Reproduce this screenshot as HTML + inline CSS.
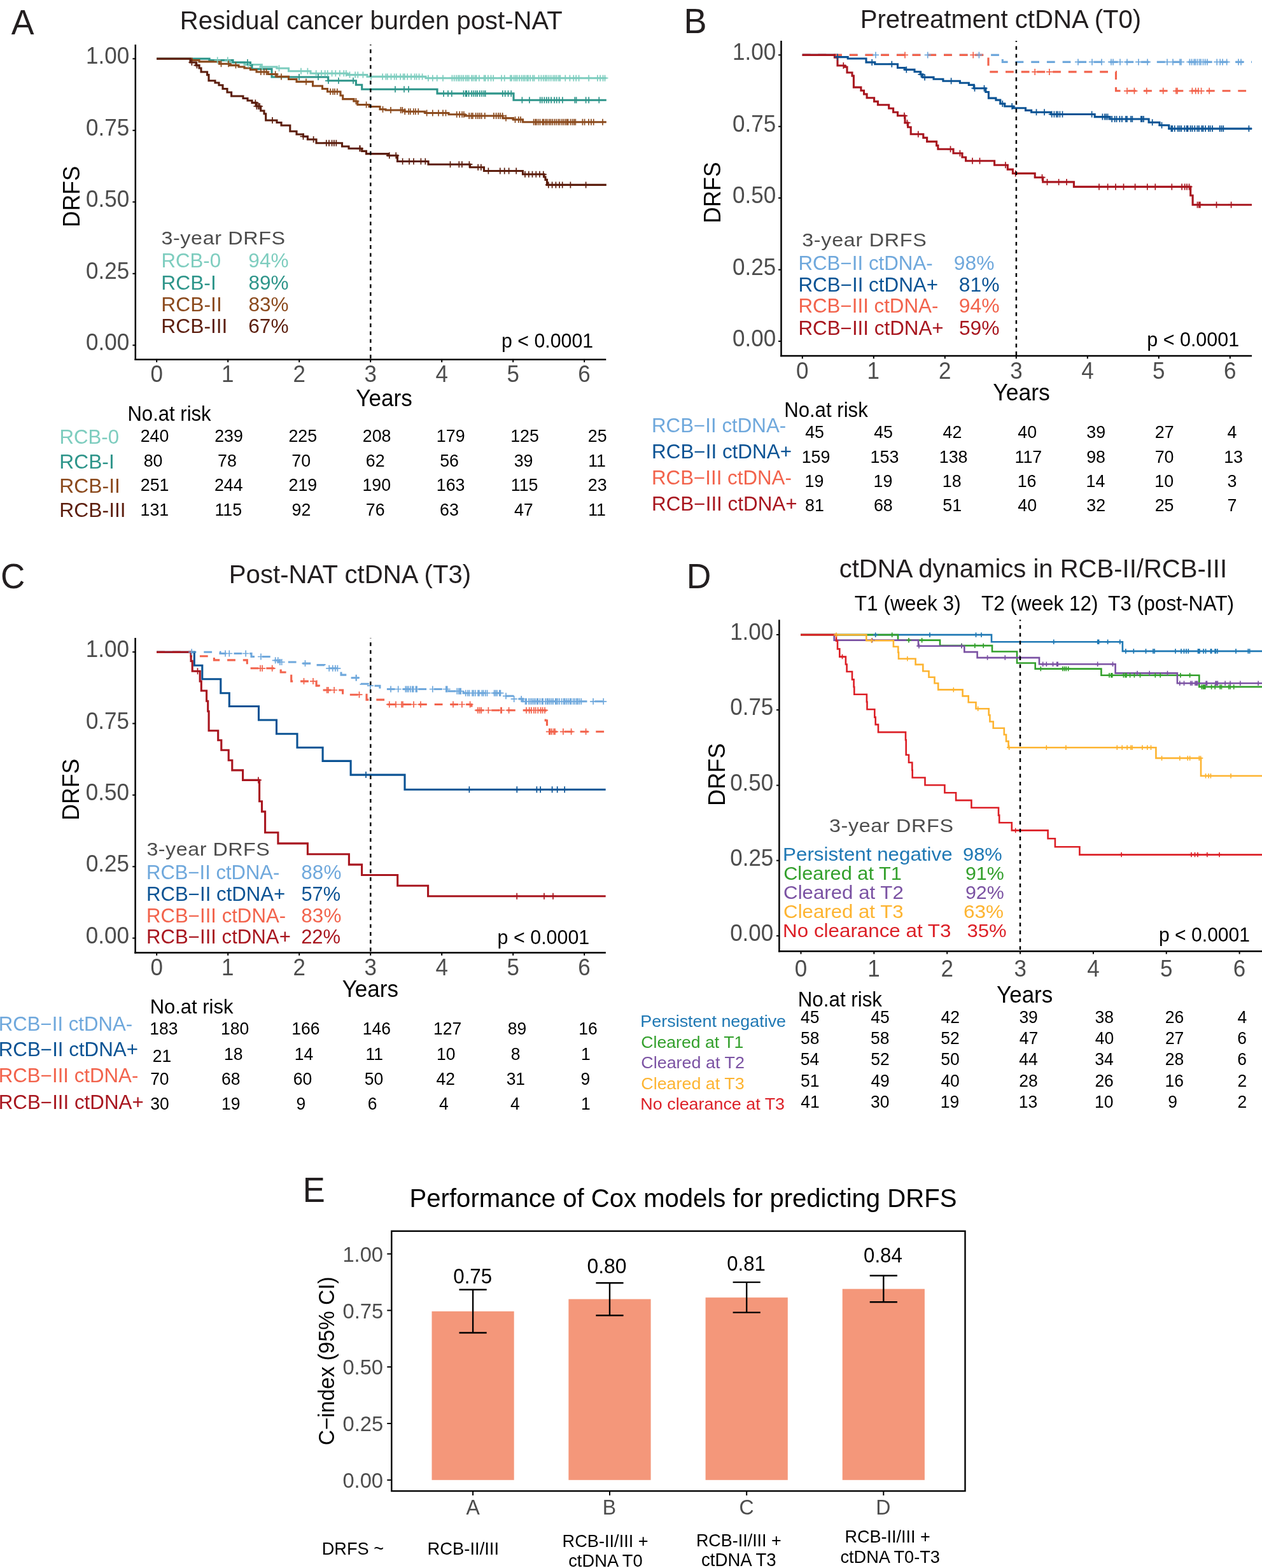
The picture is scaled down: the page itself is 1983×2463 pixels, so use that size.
<!DOCTYPE html>
<html><head><meta charset="utf-8"><title>Figure</title><style>html,body{margin:0;padding:0;background:#fff;}svg{display:block;}</style></head><body>
<svg width="1983" height="2463" viewBox="0 0 1983 2463" font-family="'Liberation Sans', Arial, Helvetica, sans-serif">
<rect width="1983" height="2463" fill="#fff"/>
<text x="17.87" y="53.80" font-size="55.50" fill="#231f20" textLength="35.84" lengthAdjust="spacingAndGlyphs">A</text>
<text x="282.79" y="46.00" font-size="41.40" fill="#231f20" textLength="600.98" lengthAdjust="spacingAndGlyphs">Residual cancer burden post-NAT</text>
<line x1="212.80" y1="70.00" x2="212.80" y2="565.95" stroke="#000" stroke-width="2.5"/>
<line x1="211.55" y1="564.70" x2="952.30" y2="564.70" stroke="#000" stroke-width="2.5"/>
<line x1="208.40" y1="542.30" x2="212.80" y2="542.30" stroke="#000" stroke-width="2"/>
<text x="135.04" y="550.30" font-size="36.47" fill="#4d4d4d" textLength="68.12" lengthAdjust="spacingAndGlyphs">0.00</text>
<line x1="208.40" y1="429.80" x2="212.80" y2="429.80" stroke="#000" stroke-width="2"/>
<text x="135.12" y="437.80" font-size="36.47" fill="#4d4d4d" textLength="68.12" lengthAdjust="spacingAndGlyphs">0.25</text>
<line x1="208.40" y1="317.30" x2="212.80" y2="317.30" stroke="#000" stroke-width="2"/>
<text x="135.04" y="325.30" font-size="36.47" fill="#4d4d4d" textLength="68.12" lengthAdjust="spacingAndGlyphs">0.50</text>
<line x1="208.40" y1="204.80" x2="212.80" y2="204.80" stroke="#000" stroke-width="2"/>
<text x="135.12" y="212.80" font-size="36.47" fill="#4d4d4d" textLength="68.12" lengthAdjust="spacingAndGlyphs">0.75</text>
<line x1="208.40" y1="92.30" x2="212.80" y2="92.30" stroke="#000" stroke-width="2"/>
<text x="135.04" y="100.30" font-size="36.47" fill="#4d4d4d" textLength="68.12" lengthAdjust="spacingAndGlyphs">1.00</text>
<line x1="246.20" y1="564.70" x2="246.20" y2="569.10" stroke="#000" stroke-width="2"/>
<text x="236.44" y="599.80" font-size="36.47" fill="#4d4d4d" textLength="19.47" lengthAdjust="spacingAndGlyphs">0</text>
<line x1="358.20" y1="564.70" x2="358.20" y2="569.10" stroke="#000" stroke-width="2"/>
<text x="348.01" y="599.80" font-size="36.47" fill="#4d4d4d" textLength="19.47" lengthAdjust="spacingAndGlyphs">1</text>
<line x1="470.20" y1="564.70" x2="470.20" y2="569.10" stroke="#000" stroke-width="2"/>
<text x="460.49" y="599.80" font-size="36.47" fill="#4d4d4d" textLength="19.47" lengthAdjust="spacingAndGlyphs">2</text>
<line x1="582.20" y1="564.70" x2="582.20" y2="569.10" stroke="#000" stroke-width="2"/>
<text x="572.58" y="599.80" font-size="36.47" fill="#4d4d4d" textLength="19.47" lengthAdjust="spacingAndGlyphs">3</text>
<line x1="694.20" y1="564.70" x2="694.20" y2="569.10" stroke="#000" stroke-width="2"/>
<text x="684.58" y="599.80" font-size="36.47" fill="#4d4d4d" textLength="19.47" lengthAdjust="spacingAndGlyphs">4</text>
<line x1="806.20" y1="564.70" x2="806.20" y2="569.10" stroke="#000" stroke-width="2"/>
<text x="796.49" y="599.80" font-size="36.47" fill="#4d4d4d" textLength="19.47" lengthAdjust="spacingAndGlyphs">5</text>
<line x1="918.20" y1="564.70" x2="918.20" y2="569.10" stroke="#000" stroke-width="2"/>
<text x="908.36" y="599.80" font-size="36.47" fill="#4d4d4d" textLength="19.47" lengthAdjust="spacingAndGlyphs">6</text>
<text transform="translate(125.10,356.92) rotate(-90)" font-size="36.86" fill="#000" textLength="96.30" lengthAdjust="spacingAndGlyphs">DRFS</text>
<text x="559.31" y="638.00" font-size="37.50" fill="#000" textLength="88.54" lengthAdjust="spacingAndGlyphs">Years</text>
<path d="M246.2 92.3H329.0V94.6H361.0V98.0H384.0V101.5H409.7V105.0H435.0V107.2H453.5V111.8H488.0V115.3H545.6V117.6H577.0V120.4H669.0V122.7H952.8" fill="none" stroke="#7ecdbf" stroke-width="3.1" stroke-linejoin="miter" stroke-linecap="butt"/>
<path d="M246.2 92.3H329.0V94.6H366.0V98.0H393.5V102.6H396.0V108.4H427.0V121.0H515.7V126.8H559.4V133.3H568.7V140.2H687.0V146.9H807.0V157.2H952.8" fill="none" stroke="#2e958a" stroke-width="3.1" stroke-linejoin="miter" stroke-linecap="butt"/>
<path d="M246.2 92.3H301.4V94.6H313.0V96.9H345.0V100.3H361.0V102.6H375.0V105.0H384.0V107.0H393.5V109.5H403.0V113.0H421.0V116.5H435.0V120.4H453.5V124.5H466.0V128.4H491.5V135.0H506.5V139.5H514.5V144.0H535.0V150.0H538.7V155.6H556.0V159.0H561.8V164.5H580.0V167.5H597.0V171.7H606.0V173.0H636.0V175.2H668.0V177.5H705.0V179.8H730.5V182.0H790.0V185.6H806.5V187.9H821.5V191.8H952.8" fill="none" stroke="#8b4a1d" stroke-width="3.1" stroke-linejoin="miter" stroke-linecap="butt"/>
<path d="M246.2 92.3H299.0V98.0H308.0V102.6H313.0V107.0H316.0V113.0H325.6V117.6H328.0V126.8H338.0V130.0H344.0V133.7H350.0V139.5H357.0V145.0H363.6V151.0H382.0V154.5H389.0V158.0H396.0V161.4H403.0V167.0H409.7V174.0H415.0V178.7H417.7V189.0H435.0V192.5H442.0V197.0H455.8V206.3H466.0V211.0H476.5V214.4H483.4V219.0H497.0V224.7H537.5V230.0H548.0V233.3H568.7V237.4H575.5V241.6H609.5V244.3H624.5V253.5H673.0V258.2H738.6V262.8H760.5V268.5H821.5V273.8H855.0V278.0H857.0V282.4H859.5V290.4H952.8" fill="none" stroke="#5c1e0e" stroke-width="3.1" stroke-linejoin="miter" stroke-linecap="butt"/>
<path d="M341.7 89.6V99.6M336.7 94.6H346.7M357.8 89.6V99.6M352.8 94.6H362.8M390.0 96.5V106.5M385.0 101.5H395.0M412.0 100.0V110.0M407.0 105.0H417.0M438.5 102.2V112.2M433.5 107.2H443.5M473.0 106.8V116.8M468.0 111.8H478.0M483.4 106.8V116.8M478.4 111.8H488.4M496.7 110.3V120.3M491.7 115.3H501.7M505.1 110.3V120.3M500.1 115.3H510.1M510.7 110.3V120.3M505.7 115.3H515.7M514.8 110.3V120.3M509.8 115.3H519.8M521.6 110.3V120.3M516.6 115.3H526.6M527.3 110.3V120.3M522.3 115.3H532.3M533.9 110.3V120.3M528.9 115.3H538.9M540.3 110.3V120.3M535.3 115.3H545.3M543.8 110.3V120.3M538.8 115.3H548.8M549.5 112.6V122.6M544.5 117.6H554.5M558.2 112.6V122.6M553.2 117.6H563.2M562.3 112.6V122.6M557.3 117.6H567.3M570.4 112.6V122.6M565.4 117.6H575.4M583.0 115.4V125.4M578.0 120.4H588.0M601.1 115.4V125.4M596.1 120.4H606.1M606.4 115.4V125.4M601.4 120.4H611.4M608.8 115.4V125.4M603.8 120.4H613.8M614.5 115.4V125.4M609.5 120.4H619.5M619.7 115.4V125.4M614.7 120.4H624.7M622.8 115.4V125.4M617.8 120.4H627.8M629.2 115.4V125.4M624.2 120.4H634.2M633.6 115.4V125.4M628.6 120.4H638.6M635.7 115.4V125.4M630.7 120.4H640.7M640.2 115.4V125.4M635.2 120.4H645.2M646.0 115.4V125.4M641.0 120.4H651.0M651.5 115.4V125.4M646.5 120.4H656.5M654.5 115.4V125.4M649.5 120.4H659.5M658.5 115.4V125.4M653.5 120.4H663.5M663.6 115.4V125.4M658.6 120.4H668.6M672.9 117.7V127.7M667.9 122.7H677.9M679.8 117.7V127.7M674.8 122.7H684.8M686.7 117.7V127.7M681.7 122.7H691.7M696.0 117.7V127.7M691.0 122.7H701.0M710.4 117.7V127.7M705.4 122.7H715.4M713.7 117.7V127.7M708.7 122.7H718.7M717.0 117.7V127.7M712.0 122.7H722.0M720.0 117.7V127.7M715.0 122.7H725.0M722.4 117.7V127.7M717.4 122.7H727.4M725.4 117.7V127.7M720.4 122.7H730.4M728.2 117.7V127.7M723.2 122.7H733.2M731.6 117.7V127.7M726.6 122.7H736.6M734.2 117.7V127.7M729.2 122.7H739.2M736.6 117.7V127.7M731.6 122.7H741.6M741.0 117.7V127.7M736.0 122.7H746.0M743.4 117.7V127.7M738.4 122.7H748.4M746.5 117.7V127.7M741.5 122.7H751.5M748.6 117.7V127.7M743.6 122.7H753.6M752.9 117.7V127.7M747.9 122.7H757.9M760.7 117.7V127.7M755.7 122.7H765.7M762.7 117.7V127.7M757.7 122.7H767.7M766.9 117.7V127.7M761.9 122.7H771.9M771.5 117.7V127.7M766.5 122.7H776.5M775.2 117.7V127.7M770.2 122.7H780.2M788.0 117.7V127.7M783.0 122.7H793.0M792.7 117.7V127.7M787.7 122.7H797.7M801.9 117.7V127.7M796.9 122.7H806.9M803.9 117.7V127.7M798.9 122.7H808.9M807.6 117.7V127.7M802.6 122.7H812.6M810.3 117.7V127.7M805.3 122.7H815.3M812.6 117.7V127.7M807.6 122.7H817.6M816.1 117.7V127.7M811.1 122.7H821.1M819.5 117.7V127.7M814.5 122.7H824.5M822.4 117.7V127.7M817.4 122.7H827.4M824.8 117.7V127.7M819.8 122.7H829.8M827.9 117.7V127.7M822.9 122.7H832.9M829.9 117.7V127.7M824.9 122.7H834.9M833.2 117.7V127.7M828.2 122.7H838.2M837.2 117.7V127.7M832.2 122.7H842.2M839.5 117.7V127.7M834.5 122.7H844.5M846.6 117.7V127.7M841.6 122.7H851.6M850.4 117.7V127.7M845.4 122.7H855.4M853.8 117.7V127.7M848.8 122.7H858.8M856.8 117.7V127.7M851.8 122.7H861.8M859.3 117.7V127.7M854.3 122.7H864.3M862.5 117.7V127.7M857.5 122.7H867.5M865.7 117.7V127.7M860.7 122.7H870.7M869.3 117.7V127.7M864.3 122.7H874.3M871.9 117.7V127.7M866.9 122.7H876.9M874.7 117.7V127.7M869.7 122.7H879.7M878.0 117.7V127.7M873.0 122.7H883.0M880.2 117.7V127.7M875.2 122.7H885.2M888.3 117.7V127.7M883.3 122.7H893.3M895.4 117.7V127.7M890.4 122.7H900.4M901.3 117.7V127.7M896.3 122.7H906.3M905.2 117.7V127.7M900.2 122.7H910.2M909.6 117.7V127.7M904.6 122.7H914.6M925.2 117.7V127.7M920.2 122.7H930.2M938.9 117.7V127.7M933.9 122.7H943.9M943.1 117.7V127.7M938.1 122.7H948.1M947.5 117.7V127.7M942.5 122.7H952.5M950.5 117.7V127.7M945.5 122.7H955.5" stroke="#7ecdbf" stroke-width="1.7" fill="none"/>
<path d="M389.0 93.0V103.0M384.0 98.0H394.0M470.0 116.0V126.0M465.0 121.0H475.0M500.0 116.0V126.0M495.0 121.0H505.0M516.0 121.8V131.8M511.0 126.8H521.0M532.0 121.8V131.8M527.0 126.8H537.0M555.0 121.8V131.8M550.0 126.8H560.0M621.0 135.2V145.2M616.0 140.2H626.0M635.0 135.2V145.2M630.0 140.2H640.0M642.0 135.2V145.2M637.0 140.2H647.0M697.1 141.9V151.9M692.1 146.9H702.1M704.0 141.9V151.9M699.0 146.9H709.0M709.8 141.9V151.9M704.8 146.9H714.8M728.4 141.9V151.9M723.4 146.9H733.4M731.7 141.9V151.9M726.7 146.9H736.7M733.2 141.9V151.9M728.2 146.9H738.2M736.5 141.9V151.9M731.5 146.9H741.5M741.2 141.9V151.9M736.2 146.9H746.2M744.3 141.9V151.9M739.3 146.9H749.3M747.4 141.9V151.9M742.4 146.9H752.4M750.0 141.9V151.9M745.0 146.9H755.0M753.8 141.9V151.9M748.8 146.9H758.8M757.1 141.9V151.9M752.1 146.9H762.1M760.3 141.9V151.9M755.3 146.9H765.3M762.7 141.9V151.9M757.7 146.9H767.7M789.8 141.9V151.9M784.8 146.9H794.8M793.7 141.9V151.9M788.7 146.9H798.7M798.5 141.9V151.9M793.5 146.9H803.5M803.2 141.9V151.9M798.2 146.9H808.2M820.4 152.2V162.2M815.4 157.2H825.4M831.9 152.2V162.2M826.9 157.2H836.9M848.7 152.2V162.2M843.7 157.2H853.7M851.7 152.2V162.2M846.7 157.2H856.7M855.4 152.2V162.2M850.4 157.2H860.4M858.9 152.2V162.2M853.9 157.2H863.9M862.2 152.2V162.2M857.2 157.2H867.2M866.1 152.2V162.2M861.1 157.2H871.1M871.1 152.2V162.2M866.1 157.2H876.1M874.7 152.2V162.2M869.7 157.2H879.7M878.7 152.2V162.2M873.7 157.2H883.7M883.9 152.2V162.2M878.9 157.2H888.9M903.3 152.2V162.2M898.3 157.2H908.3M905.6 152.2V162.2M900.6 157.2H910.6M920.6 152.2V162.2M915.6 157.2H925.6M925.2 152.2V162.2M920.2 157.2H930.2M941.3 152.2V162.2M936.3 157.2H946.3" stroke="#2e958a" stroke-width="1.7" fill="none"/>
<path d="M347.5 95.3V105.3M342.5 100.3H352.5M359.0 95.3V105.3M354.0 100.3H364.0M370.5 97.6V107.6M365.5 102.6H375.5M409.9 108.0V118.0M404.9 113.0H414.9M414.9 108.0V118.0M409.9 113.0H419.9M418.6 108.0V118.0M413.6 113.0H423.6M432.7 111.5V121.5M427.7 116.5H437.7M442.0 115.4V125.4M437.0 120.4H447.0M481.0 123.4V133.4M476.0 128.4H486.0M519.1 139.0V149.0M514.1 144.0H524.1M523.2 139.0V149.0M518.2 144.0H528.2M525.9 139.0V149.0M520.9 144.0H530.9M529.8 139.0V149.0M524.8 144.0H534.8M559.4 154.0V164.0M554.4 159.0H564.4M575.6 159.5V169.5M570.6 164.5H580.6M601.5 166.7V176.7M596.5 171.7H606.5M614.0 168.0V178.0M609.0 173.0H619.0M629.6 168.0V178.0M624.6 173.0H634.6M632.3 168.0V178.0M627.3 173.0H637.3M636.2 170.2V180.2M631.2 175.2H641.2M642.1 170.2V180.2M637.1 175.2H647.1M644.8 170.2V180.2M639.8 175.2H649.8M649.8 170.2V180.2M644.8 175.2H654.8M652.9 170.2V180.2M647.9 175.2H657.9M657.3 170.2V180.2M652.3 175.2H662.3M670.6 172.5V182.5M665.6 177.5H675.6M679.8 172.5V182.5M674.8 177.5H684.8M689.0 172.5V182.5M684.0 177.5H694.0M696.0 172.5V182.5M691.0 177.5H701.0M700.5 172.5V182.5M695.5 177.5H705.5M717.7 174.8V184.8M712.7 179.8H722.7M722.2 174.8V184.8M717.2 179.8H727.2M726.1 174.8V184.8M721.1 179.8H731.1M728.8 174.8V184.8M723.8 179.8H733.8M737.2 177.0V187.0M732.2 182.0H742.2M740.6 177.0V187.0M735.6 182.0H745.6M742.8 177.0V187.0M737.8 182.0H747.8M747.7 177.0V187.0M742.7 182.0H752.7M750.8 177.0V187.0M745.8 182.0H755.8M753.7 177.0V187.0M748.7 182.0H758.7M756.6 177.0V187.0M751.6 182.0H761.6M761.8 177.0V187.0M756.8 182.0H766.8M775.9 177.0V187.0M770.9 182.0H780.9M779.6 177.0V187.0M774.6 182.0H784.6M783.1 177.0V187.0M778.1 182.0H788.1M786.0 177.0V187.0M781.0 182.0H791.0M789.6 177.0V187.0M784.6 182.0H794.6M795.0 180.6V190.6M790.0 185.6H800.0M809.5 182.9V192.9M804.5 187.9H814.5M814.8 182.9V192.9M809.8 187.9H819.8M818.1 182.9V192.9M813.1 187.9H823.1M838.6 186.8V196.8M833.6 191.8H843.6M841.3 186.8V196.8M836.3 191.8H846.3M842.7 186.8V196.8M837.7 191.8H847.7M845.6 186.8V196.8M840.6 191.8H850.6M848.5 186.8V196.8M843.5 191.8H853.5M852.5 186.8V196.8M847.5 191.8H857.5M854.4 186.8V196.8M849.4 191.8H859.4M857.4 186.8V196.8M852.4 191.8H862.4M859.7 186.8V196.8M854.7 191.8H864.7M862.8 186.8V196.8M857.8 191.8H867.8M865.3 186.8V196.8M860.3 191.8H870.3M868.0 186.8V196.8M863.0 191.8H873.0M871.2 186.8V196.8M866.2 191.8H876.2M874.0 186.8V196.8M869.0 191.8H879.0M877.2 186.8V196.8M872.2 191.8H882.2M879.6 186.8V196.8M874.6 191.8H884.6M882.8 186.8V196.8M877.8 191.8H887.8M885.5 186.8V196.8M880.5 191.8H890.5M888.4 186.8V196.8M883.4 191.8H893.4M890.7 186.8V196.8M885.7 191.8H895.7M892.6 186.8V196.8M887.6 191.8H897.6M896.5 186.8V196.8M891.5 191.8H901.5M899.5 186.8V196.8M894.5 191.8H904.5M902.1 186.8V196.8M897.1 191.8H907.1M904.3 186.8V196.8M899.3 191.8H909.3M915.4 186.8V196.8M910.4 191.8H920.4M918.6 186.8V196.8M913.6 191.8H923.6M925.0 186.8V196.8M920.0 191.8H930.0M928.9 186.8V196.8M923.9 191.8H933.9M932.7 186.8V196.8M927.7 191.8H937.7M947.0 186.8V196.8M942.0 191.8H952.0" stroke="#8b4a1d" stroke-width="1.7" fill="none"/>
<path d="M301.4 93.0V103.0M296.4 98.0H306.4M309.4 97.6V107.6M304.4 102.6H314.4M401.3 156.4V166.4M396.3 161.4H406.3M403.4 162.0V172.0M398.4 167.0H408.4M406.1 162.0V172.0M401.1 167.0H411.1M408.1 162.0V172.0M403.1 167.0H413.1M428.0 184.0V194.0M423.0 189.0H433.0M476.5 209.4V219.4M471.5 214.4H481.5M492.6 214.0V224.0M487.6 219.0H497.6M512.8 219.7V229.7M507.8 224.7H517.8M517.0 219.7V229.7M512.0 224.7H522.0M521.6 219.7V229.7M516.6 224.7H526.6M524.9 219.7V229.7M519.9 224.7H529.9M528.3 219.7V229.7M523.3 224.7H533.3M565.2 228.3V238.3M560.2 233.3H570.2M565.8 228.3V238.3M560.8 233.3H570.8M611.8 239.3V249.3M606.8 244.3H616.8M622.2 239.3V249.3M617.2 244.3H627.2M632.6 248.5V258.5M627.6 253.5H637.6M643.0 248.5V258.5M638.0 253.5H648.0M650.0 248.5V258.5M645.0 253.5H655.0M661.4 248.5V258.5M656.4 253.5H666.4M668.3 248.5V258.5M663.3 253.5H673.3M707.5 253.2V263.2M702.5 258.2H712.5M721.3 253.2V263.2M716.3 258.2H726.3M725.9 253.2V263.2M720.9 258.2H730.9M737.4 253.2V263.2M732.4 258.2H742.4M751.2 257.8V267.8M746.2 262.8H756.2M755.9 257.8V267.8M750.9 262.8H760.9M767.4 263.5V273.5M762.4 268.5H772.4M785.8 263.5V273.5M780.8 268.5H790.8M792.7 263.5V273.5M787.7 268.5H797.7M799.6 263.5V273.5M794.6 268.5H804.6M811.2 263.5V273.5M806.2 268.5H816.2M825.0 268.8V278.8M820.0 273.8H830.0M830.8 268.8V278.8M825.8 273.8H835.8M836.5 268.8V278.8M831.5 273.8H841.5M842.3 268.8V278.8M837.3 273.8H847.3M848.0 268.8V278.8M843.0 273.8H853.0M853.8 268.8V278.8M848.8 273.8H858.8M861.8 285.4V295.4M856.8 290.4H866.8M867.6 285.4V295.4M862.6 290.4H872.6M873.4 285.4V295.4M868.4 290.4H878.4M879.1 285.4V295.4M874.1 290.4H884.1M883.7 285.4V295.4M878.7 290.4H888.7M896.4 285.4V295.4M891.4 290.4H901.4M920.6 285.4V295.4M915.6 290.4H925.6" stroke="#5c1e0e" stroke-width="1.7" fill="none"/>
<line x1="582.30" y1="70.00" x2="582.30" y2="564.70" stroke="#000" stroke-width="2.5" stroke-dasharray="5.9 6.4" stroke-dashoffset="4.7"/>
<text transform="translate(253.39,384.00) scale(1.065,1)" font-size="30.30" fill="#4d4d4d" textLength="182.77" lengthAdjust="spacing">3-year DRFS</text>
<text x="253.43" y="420.10" font-size="30.50" fill="#7ecdbf" textLength="93.56" lengthAdjust="spacingAndGlyphs">RCB-0</text>
<text x="390.30" y="420.10" font-size="30.50" fill="#7ecdbf" textLength="63.28" lengthAdjust="spacingAndGlyphs">94%</text>
<text x="253.38" y="454.80" font-size="30.50" fill="#2e958a" textLength="86.34" lengthAdjust="spacingAndGlyphs">RCB-I</text>
<text x="390.46" y="454.80" font-size="30.50" fill="#2e958a" textLength="63.11" lengthAdjust="spacingAndGlyphs">89%</text>
<text x="253.38" y="488.60" font-size="30.50" fill="#8b4a1d" textLength="95.37" lengthAdjust="spacingAndGlyphs">RCB-II</text>
<text x="390.46" y="488.60" font-size="30.50" fill="#8b4a1d" textLength="63.11" lengthAdjust="spacingAndGlyphs">83%</text>
<text x="253.38" y="523.30" font-size="30.50" fill="#5c1e0e" textLength="104.07" lengthAdjust="spacingAndGlyphs">RCB-III</text>
<text x="390.22" y="523.30" font-size="30.50" fill="#5c1e0e" textLength="63.36" lengthAdjust="spacingAndGlyphs">67%</text>
<text x="788.03" y="546.20" font-size="31.57" fill="#000" textLength="144.07" lengthAdjust="spacingAndGlyphs">p &lt; 0.0001</text>
<text x="200.44" y="661.00" font-size="32.37" fill="#000" textLength="131.19" lengthAdjust="spacingAndGlyphs">No.at risk</text>
<text x="93.42" y="697.30" font-size="30.50" fill="#7ecdbf" textLength="93.66" lengthAdjust="spacingAndGlyphs">RCB-0</text>
<text x="93.38" y="735.80" font-size="30.50" fill="#2e958a" textLength="86.34" lengthAdjust="spacingAndGlyphs">RCB-I</text>
<text x="93.37" y="774.40" font-size="30.50" fill="#8b4a1d" textLength="95.47" lengthAdjust="spacingAndGlyphs">RCB-II</text>
<text x="93.38" y="812.40" font-size="30.50" fill="#5c1e0e" textLength="104.28" lengthAdjust="spacingAndGlyphs">RCB-III</text>
<text x="220.69" y="694.30" font-size="27.93" fill="#000" textLength="44.72" lengthAdjust="spacingAndGlyphs">240</text>
<text x="337.14" y="694.30" font-size="27.93" fill="#000" textLength="44.72" lengthAdjust="spacingAndGlyphs">239</text>
<text x="453.42" y="694.30" font-size="27.93" fill="#000" textLength="44.72" lengthAdjust="spacingAndGlyphs">225</text>
<text x="569.81" y="694.30" font-size="27.93" fill="#000" textLength="44.72" lengthAdjust="spacingAndGlyphs">208</text>
<text x="685.86" y="694.30" font-size="27.93" fill="#000" textLength="44.72" lengthAdjust="spacingAndGlyphs">179</text>
<text x="802.14" y="694.30" font-size="27.93" fill="#000" textLength="44.72" lengthAdjust="spacingAndGlyphs">125</text>
<text x="923.76" y="694.30" font-size="27.93" fill="#000" textLength="29.81" lengthAdjust="spacingAndGlyphs">25</text>
<text x="225.73" y="732.90" font-size="27.93" fill="#000" textLength="29.81" lengthAdjust="spacingAndGlyphs">80</text>
<text x="342.04" y="732.90" font-size="27.93" fill="#000" textLength="29.81" lengthAdjust="spacingAndGlyphs">78</text>
<text x="458.33" y="732.90" font-size="27.93" fill="#000" textLength="29.81" lengthAdjust="spacingAndGlyphs">70</text>
<text x="574.84" y="732.90" font-size="27.93" fill="#000" textLength="29.81" lengthAdjust="spacingAndGlyphs">62</text>
<text x="691.23" y="732.90" font-size="27.93" fill="#000" textLength="29.81" lengthAdjust="spacingAndGlyphs">56</text>
<text x="807.64" y="732.90" font-size="27.93" fill="#000" textLength="29.81" lengthAdjust="spacingAndGlyphs">39</text>
<text x="924.16" y="732.90" font-size="27.93" fill="#000" textLength="27.82" lengthAdjust="spacingAndGlyphs">11</text>
<text x="220.82" y="771.20" font-size="27.93" fill="#000" textLength="44.72" lengthAdjust="spacingAndGlyphs">251</text>
<text x="336.91" y="771.20" font-size="27.93" fill="#000" textLength="44.72" lengthAdjust="spacingAndGlyphs">244</text>
<text x="453.49" y="771.20" font-size="27.93" fill="#000" textLength="44.72" lengthAdjust="spacingAndGlyphs">219</text>
<text x="569.40" y="771.20" font-size="27.93" fill="#000" textLength="44.72" lengthAdjust="spacingAndGlyphs">190</text>
<text x="685.82" y="771.20" font-size="27.93" fill="#000" textLength="44.72" lengthAdjust="spacingAndGlyphs">163</text>
<text x="802.81" y="771.20" font-size="27.93" fill="#000" textLength="42.73" lengthAdjust="spacingAndGlyphs">115</text>
<text x="923.79" y="771.20" font-size="27.93" fill="#000" textLength="29.81" lengthAdjust="spacingAndGlyphs">23</text>
<text x="220.49" y="809.80" font-size="27.93" fill="#000" textLength="44.72" lengthAdjust="spacingAndGlyphs">131</text>
<text x="337.41" y="809.80" font-size="27.93" fill="#000" textLength="42.73" lengthAdjust="spacingAndGlyphs">115</text>
<text x="458.53" y="809.80" font-size="27.93" fill="#000" textLength="29.81" lengthAdjust="spacingAndGlyphs">92</text>
<text x="574.74" y="809.80" font-size="27.93" fill="#000" textLength="29.81" lengthAdjust="spacingAndGlyphs">76</text>
<text x="691.09" y="809.80" font-size="27.93" fill="#000" textLength="29.81" lengthAdjust="spacingAndGlyphs">63</text>
<text x="807.91" y="809.80" font-size="27.93" fill="#000" textLength="29.81" lengthAdjust="spacingAndGlyphs">47</text>
<text x="924.16" y="809.80" font-size="27.93" fill="#000" textLength="27.82" lengthAdjust="spacingAndGlyphs">11</text>
<text x="1074.54" y="51.90" font-size="55.50" fill="#231f20" textLength="36.07" lengthAdjust="spacingAndGlyphs">B</text>
<text x="1351.69" y="43.70" font-size="41.40" fill="#231f20" textLength="441.55" lengthAdjust="spacingAndGlyphs">Pretreatment ctDNA (T0)</text>
<line x1="1227.50" y1="64.00" x2="1227.50" y2="560.25" stroke="#000" stroke-width="2.5"/>
<line x1="1226.25" y1="559.00" x2="1967.00" y2="559.00" stroke="#000" stroke-width="2.5"/>
<line x1="1223.10" y1="536.00" x2="1227.50" y2="536.00" stroke="#000" stroke-width="2"/>
<text x="1151.04" y="544.00" font-size="36.47" fill="#4d4d4d" textLength="68.12" lengthAdjust="spacingAndGlyphs">0.00</text>
<line x1="1223.10" y1="423.70" x2="1227.50" y2="423.70" stroke="#000" stroke-width="2"/>
<text x="1151.12" y="431.70" font-size="36.47" fill="#4d4d4d" textLength="68.12" lengthAdjust="spacingAndGlyphs">0.25</text>
<line x1="1223.10" y1="311.00" x2="1227.50" y2="311.00" stroke="#000" stroke-width="2"/>
<text x="1151.04" y="319.00" font-size="36.47" fill="#4d4d4d" textLength="68.12" lengthAdjust="spacingAndGlyphs">0.50</text>
<line x1="1223.10" y1="198.70" x2="1227.50" y2="198.70" stroke="#000" stroke-width="2"/>
<text x="1151.12" y="206.70" font-size="36.47" fill="#4d4d4d" textLength="68.12" lengthAdjust="spacingAndGlyphs">0.75</text>
<line x1="1223.10" y1="86.40" x2="1227.50" y2="86.40" stroke="#000" stroke-width="2"/>
<text x="1151.04" y="94.40" font-size="36.47" fill="#4d4d4d" textLength="68.12" lengthAdjust="spacingAndGlyphs">1.00</text>
<line x1="1260.80" y1="559.00" x2="1260.80" y2="563.40" stroke="#000" stroke-width="2"/>
<text x="1251.04" y="594.80" font-size="36.47" fill="#4d4d4d" textLength="19.47" lengthAdjust="spacingAndGlyphs">0</text>
<line x1="1372.80" y1="559.00" x2="1372.80" y2="563.40" stroke="#000" stroke-width="2"/>
<text x="1362.61" y="594.80" font-size="36.47" fill="#4d4d4d" textLength="19.47" lengthAdjust="spacingAndGlyphs">1</text>
<line x1="1484.80" y1="559.00" x2="1484.80" y2="563.40" stroke="#000" stroke-width="2"/>
<text x="1475.09" y="594.80" font-size="36.47" fill="#4d4d4d" textLength="19.47" lengthAdjust="spacingAndGlyphs">2</text>
<line x1="1596.80" y1="559.00" x2="1596.80" y2="563.40" stroke="#000" stroke-width="2"/>
<text x="1587.17" y="594.80" font-size="36.47" fill="#4d4d4d" textLength="19.47" lengthAdjust="spacingAndGlyphs">3</text>
<line x1="1708.80" y1="559.00" x2="1708.80" y2="563.40" stroke="#000" stroke-width="2"/>
<text x="1699.17" y="594.80" font-size="36.47" fill="#4d4d4d" textLength="19.47" lengthAdjust="spacingAndGlyphs">4</text>
<line x1="1820.80" y1="559.00" x2="1820.80" y2="563.40" stroke="#000" stroke-width="2"/>
<text x="1811.09" y="594.80" font-size="36.47" fill="#4d4d4d" textLength="19.47" lengthAdjust="spacingAndGlyphs">5</text>
<line x1="1932.80" y1="559.00" x2="1932.80" y2="563.40" stroke="#000" stroke-width="2"/>
<text x="1922.96" y="594.80" font-size="36.47" fill="#4d4d4d" textLength="19.47" lengthAdjust="spacingAndGlyphs">6</text>
<text transform="translate(1131.80,350.82) rotate(-90)" font-size="36.86" fill="#000" textLength="96.30" lengthAdjust="spacingAndGlyphs">DRFS</text>
<text x="1560.30" y="629.10" font-size="37.50" fill="#000" textLength="89.56" lengthAdjust="spacingAndGlyphs">Years</text>
<path d="M1260.7 86.4H1575.3V97.4H1967.0" fill="none" stroke="#6fa8dc" stroke-width="3.1" stroke-linejoin="miter" stroke-linecap="butt" stroke-dasharray="12.8 11.9" stroke-dashoffset="0"/>
<path d="M1260.7 86.4H1313.7V89.6H1332.2V92.0H1361.0V97.9H1374.8V100.7H1410.5V106.5H1422.0V109.4H1437.0V112.7H1446.2V116.8H1449.7V121.4H1467.0V124.2H1481.9V127.2H1508.4V130.2H1522.3V133.4H1530.3V138.7H1548.8V144.5H1553.4V154.1H1564.9V157.1H1571.8V162.9H1578.7V167.0H1592.5V169.8H1611.5V173.4H1620.6V176.3H1651.1V179.5H1720.2V183.6H1744.0V187.0H1805.1V192.2H1822.0V196.7H1836.8V202.1H1967.0" fill="none" stroke="#0b5394" stroke-width="3.1" stroke-linejoin="miter" stroke-linecap="butt"/>
<path d="M1260.7 86.4H1553.0V112.9H1753.5V142.8H1960.0" fill="none" stroke="#f2634c" stroke-width="3.1" stroke-linejoin="miter" stroke-linecap="butt" stroke-dasharray="12.8 11.9" stroke-dashoffset="0"/>
<path d="M1260.7 86.4H1311.4V90.3H1316.0V103.0H1327.6V105.3H1331.0V114.0H1339.0V119.1H1341.4V137.1H1352.9V142.2H1357.5V147.9H1362.1V153.7H1373.6V159.4H1379.4V164.7H1396.7V170.3H1403.6V176.3H1410.5V181.8H1422.0V192.9H1426.6V199.8H1431.2V210.8H1450.8V216.4H1456.6V222.4H1471.6V228.6H1473.9V234.3H1498.0V240.8H1511.9V247.0H1517.6V252.8H1562.6V259.2H1583.3V266.1H1591.4V272.4H1626.2V278.7H1638.7V285.9H1687.4V293.4H1870.7V307.0H1874.1V321.7H1967.0" fill="none" stroke="#a8161f" stroke-width="3.1" stroke-linejoin="miter" stroke-linecap="butt"/>
<path d="M1376.0 81.4V91.4M1371.0 86.4H1381.0M1457.7 81.4V91.4M1452.7 86.4H1462.7M1538.4 81.4V91.4M1533.4 86.4H1543.4M1694.0 92.4V102.4M1689.0 97.4H1699.0M1716.0 92.4V102.4M1711.0 97.4H1721.0M1731.0 92.4V102.4M1726.0 97.4H1736.0M1746.0 92.4V102.4M1741.0 97.4H1751.0M1749.0 92.4V102.4M1744.0 97.4H1754.0M1760.0 92.4V102.4M1755.0 97.4H1765.0M1771.0 92.4V102.4M1766.0 97.4H1776.0M1789.0 92.4V102.4M1784.0 97.4H1794.0M1803.0 92.4V102.4M1798.0 97.4H1808.0M1834.0 92.4V102.4M1829.0 97.4H1839.0M1843.0 92.4V102.4M1838.0 97.4H1848.0M1854.0 92.4V102.4M1849.0 97.4H1859.0M1856.0 92.4V102.4M1851.0 97.4H1861.0M1869.4 92.4V102.4M1864.4 97.4H1874.4M1872.6 92.4V102.4M1867.6 97.4H1877.6M1876.3 92.4V102.4M1871.3 97.4H1881.3M1878.4 92.4V102.4M1873.4 97.4H1883.4M1881.5 92.4V102.4M1876.5 97.4H1886.5M1884.7 92.4V102.4M1879.7 97.4H1889.7M1886.9 92.4V102.4M1881.9 97.4H1891.9M1890.5 92.4V102.4M1885.5 97.4H1895.5M1893.7 92.4V102.4M1888.7 97.4H1898.7M1897.0 92.4V102.4M1892.0 97.4H1902.0M1912.2 92.4V102.4M1907.2 97.4H1917.2M1917.2 92.4V102.4M1912.2 97.4H1922.2M1921.1 92.4V102.4M1916.1 97.4H1926.1M1927.6 92.4V102.4M1922.6 97.4H1932.6M1946.0 92.4V102.4M1941.0 97.4H1951.0M1950.0 92.4V102.4M1945.0 97.4H1955.0" stroke="#6fa8dc" stroke-width="1.7" fill="none"/>
<path d="M1316.0 84.6V94.6M1311.0 89.6H1321.0M1370.2 92.9V102.9M1365.2 97.9H1375.2M1401.3 95.7V105.7M1396.3 100.7H1406.3M1424.3 104.4V114.4M1419.3 109.4H1429.3M1447.4 111.8V121.8M1442.4 116.8H1452.4M1453.1 116.4V126.4M1448.1 121.4H1458.1M1494.6 122.2V132.2M1489.6 127.2H1499.6M1531.5 133.7V143.7M1526.5 138.7H1536.5M1546.5 133.7V143.7M1541.5 138.7H1551.5M1575.3 157.9V167.9M1570.3 162.9H1580.3M1590.2 162.0V172.0M1585.2 167.0H1595.2M1628.5 171.3V181.3M1623.5 176.3H1633.5M1641.0 171.3V181.3M1636.0 176.3H1646.0M1652.7 174.5V184.5M1647.7 179.5H1657.7M1656.4 174.5V184.5M1651.4 179.5H1661.4M1659.9 174.5V184.5M1654.9 179.5H1664.9M1662.2 174.5V184.5M1657.2 179.5H1667.2M1665.4 174.5V184.5M1660.4 179.5H1670.4M1669.5 174.5V184.5M1664.5 179.5H1674.5M1715.6 174.5V184.5M1710.6 179.5H1720.6M1732.4 178.6V188.6M1727.4 183.6H1737.4M1735.8 178.6V188.6M1730.8 183.6H1740.8M1738.2 178.6V188.6M1733.2 183.6H1743.2M1740.6 178.6V188.6M1735.6 183.6H1745.6M1747.2 182.0V192.0M1742.2 187.0H1752.2M1751.6 182.0V192.0M1746.6 187.0H1756.6M1754.5 182.0V192.0M1749.5 187.0H1759.5M1759.4 182.0V192.0M1754.4 187.0H1764.4M1762.9 182.0V192.0M1757.9 187.0H1767.9M1768.9 182.0V192.0M1763.9 187.0H1773.9M1770.9 182.0V192.0M1765.9 187.0H1775.9M1777.0 182.0V192.0M1772.0 187.0H1782.0M1779.3 182.0V192.0M1774.3 187.0H1784.3M1792.9 182.0V192.0M1787.9 187.0H1797.9M1794.7 182.0V192.0M1789.7 187.0H1799.7M1797.0 182.0V192.0M1792.0 187.0H1802.0M1810.7 187.2V197.2M1805.7 192.2H1815.7M1825.5 191.7V201.7M1820.5 196.7H1830.5M1840.4 197.1V207.1M1835.4 202.1H1845.4M1842.2 197.1V207.1M1837.2 202.1H1847.2M1845.7 197.1V207.1M1840.7 202.1H1850.7M1850.9 197.1V207.1M1845.9 202.1H1855.9M1853.5 197.1V207.1M1848.5 202.1H1858.5M1856.1 197.1V207.1M1851.1 202.1H1861.1M1861.4 197.1V207.1M1856.4 202.1H1866.4M1864.8 197.1V207.1M1859.8 202.1H1869.8M1866.5 197.1V207.1M1861.5 202.1H1871.5M1870.6 197.1V207.1M1865.6 202.1H1875.6M1873.5 197.1V207.1M1868.5 202.1H1878.5M1877.3 197.1V207.1M1872.3 202.1H1882.3M1881.4 197.1V207.1M1876.4 202.1H1886.4M1883.9 197.1V207.1M1878.9 202.1H1888.9M1888.4 197.1V207.1M1883.4 202.1H1893.4M1890.5 197.1V207.1M1885.5 202.1H1895.5M1894.2 197.1V207.1M1889.2 202.1H1899.2M1899.0 197.1V207.1M1894.0 202.1H1904.0M1901.6 197.1V207.1M1896.6 202.1H1906.6M1905.1 197.1V207.1M1900.1 202.1H1910.1M1916.7 197.1V207.1M1911.7 202.1H1921.7M1919.5 197.1V207.1M1914.5 202.1H1924.5M1922.3 197.1V207.1M1917.3 202.1H1927.3M1962.4 197.1V207.1M1957.4 202.1H1967.4" stroke="#0b5394" stroke-width="1.7" fill="none"/>
<path d="M1422.0 81.4V91.4M1417.0 86.4H1427.0M1529.2 81.4V91.4M1524.2 86.4H1534.2M1626.2 107.9V117.9M1621.2 112.9H1631.2M1648.9 107.9V117.9M1643.9 112.9H1653.9M1771.0 137.8V147.8M1766.0 142.8H1776.0M1782.4 137.8V147.8M1777.4 142.8H1787.4M1801.7 137.8V147.8M1796.7 142.8H1806.7M1827.7 137.8V147.8M1822.7 142.8H1832.7M1848.0 137.8V147.8M1843.0 142.8H1853.0M1850.0 137.8V147.8M1845.0 142.8H1855.0M1873.4 137.8V147.8M1868.4 142.8H1878.4M1878.7 137.8V147.8M1873.7 142.8H1883.7M1882.9 137.8V147.8M1877.9 142.8H1887.9M1887.6 137.8V147.8M1882.6 142.8H1892.6M1900.2 137.8V147.8M1895.2 142.8H1905.2" stroke="#f2634c" stroke-width="1.7" fill="none"/>
<path d="M1325.3 98.0V108.0M1320.3 103.0H1330.3M1420.9 176.8V186.8M1415.9 181.8H1425.9M1425.5 187.9V197.9M1420.5 192.9H1430.5M1442.8 205.8V215.8M1437.8 210.8H1447.8M1493.5 229.3V239.3M1488.5 234.3H1498.5M1508.4 235.8V245.8M1503.4 240.8H1513.4M1528.0 247.8V257.8M1523.0 252.8H1533.0M1539.5 247.8V257.8M1534.5 252.8H1544.5M1579.9 254.2V264.2M1574.9 259.2H1584.9M1595.7 267.4V277.4M1590.7 272.4H1600.7M1637.5 273.7V283.7M1632.5 278.7H1642.5M1645.5 280.9V290.9M1640.5 285.9H1650.5M1663.6 280.9V290.9M1658.6 285.9H1668.6M1676.0 280.9V290.9M1671.0 285.9H1681.0M1727.0 288.4V298.4M1722.0 293.4H1732.0M1740.6 288.4V298.4M1735.6 293.4H1745.6M1753.0 288.4V298.4M1748.0 293.4H1758.0M1765.5 288.4V298.4M1760.5 293.4H1770.5M1783.6 288.4V298.4M1778.6 293.4H1788.6M1802.8 288.4V298.4M1797.8 293.4H1807.8M1815.3 288.4V298.4M1810.3 293.4H1820.3M1841.3 288.4V298.4M1836.3 293.4H1846.3M1857.1 288.4V298.4M1852.1 293.4H1862.1M1861.7 288.4V298.4M1856.7 293.4H1866.7M1865.0 288.4V298.4M1860.0 293.4H1870.0M1868.5 288.4V298.4M1863.5 293.4H1873.5M1881.5 316.7V326.7M1876.5 321.7H1886.5M1884.0 316.7V326.7M1879.0 321.7H1889.0M1885.8 316.7V326.7M1880.8 321.7H1890.8M1911.5 316.7V326.7M1906.5 321.7H1916.5M1934.6 316.7V326.7M1929.6 321.7H1939.6" stroke="#a8161f" stroke-width="1.7" fill="none"/>
<line x1="1596.90" y1="64.30" x2="1596.90" y2="559.00" stroke="#000" stroke-width="2.5" stroke-dasharray="5.9 6.4" stroke-dashoffset="4.2"/>
<text transform="translate(1260.19,386.60) scale(1.065,1)" font-size="30.30" fill="#4d4d4d" textLength="183.61" lengthAdjust="spacing">3-year DRFS</text>
<text x="1254.42" y="423.80" font-size="30.50" fill="#6fa8dc" textLength="211.35" lengthAdjust="spacingAndGlyphs">RCB−II ctDNA-</text>
<text x="1498.89" y="423.80" font-size="30.50" fill="#6fa8dc" textLength="63.69" lengthAdjust="spacingAndGlyphs">98%</text>
<text x="1254.41" y="457.80" font-size="30.50" fill="#0b5394" textLength="219.64" lengthAdjust="spacingAndGlyphs">RCB−II ctDNA+</text>
<text x="1506.85" y="457.80" font-size="30.50" fill="#0b5394" textLength="63.74" lengthAdjust="spacingAndGlyphs">81%</text>
<text x="1254.42" y="491.30" font-size="30.50" fill="#f2634c" textLength="219.96" lengthAdjust="spacingAndGlyphs">RCB−III ctDNA-</text>
<text x="1506.68" y="491.30" font-size="30.50" fill="#f2634c" textLength="63.90" lengthAdjust="spacingAndGlyphs">94%</text>
<text x="1254.41" y="525.80" font-size="30.50" fill="#a8161f" textLength="228.25" lengthAdjust="spacingAndGlyphs">RCB−III ctDNA+</text>
<text x="1506.93" y="525.80" font-size="30.50" fill="#a8161f" textLength="63.65" lengthAdjust="spacingAndGlyphs">59%</text>
<text x="1802.32" y="544.20" font-size="31.73" fill="#000" textLength="144.79" lengthAdjust="spacingAndGlyphs">p &lt; 0.0001</text>
<text x="1232.13" y="655.30" font-size="32.47" fill="#000" textLength="131.59" lengthAdjust="spacingAndGlyphs">No.at risk</text>
<text x="1024.02" y="679.00" font-size="30.50" fill="#6fa8dc" textLength="211.14" lengthAdjust="spacingAndGlyphs">RCB−II ctDNA-</text>
<text x="1024.01" y="719.90" font-size="30.50" fill="#0b5394" textLength="220.05" lengthAdjust="spacingAndGlyphs">RCB−II ctDNA+</text>
<text x="1024.02" y="760.80" font-size="30.50" fill="#f2634c" textLength="219.86" lengthAdjust="spacingAndGlyphs">RCB−III ctDNA-</text>
<text x="1024.01" y="802.00" font-size="30.50" fill="#a8161f" textLength="228.66" lengthAdjust="spacingAndGlyphs">RCB−III ctDNA+</text>
<text x="1265.23" y="688.20" font-size="27.93" fill="#000" textLength="29.81" lengthAdjust="spacingAndGlyphs">45</text>
<text x="1373.23" y="688.20" font-size="27.93" fill="#000" textLength="29.81" lengthAdjust="spacingAndGlyphs">45</text>
<text x="1481.56" y="688.20" font-size="27.93" fill="#000" textLength="29.81" lengthAdjust="spacingAndGlyphs">42</text>
<text x="1599.29" y="688.20" font-size="27.93" fill="#000" textLength="29.81" lengthAdjust="spacingAndGlyphs">40</text>
<text x="1707.29" y="688.20" font-size="27.93" fill="#000" textLength="29.81" lengthAdjust="spacingAndGlyphs">39</text>
<text x="1814.79" y="688.20" font-size="27.93" fill="#000" textLength="29.81" lengthAdjust="spacingAndGlyphs">27</text>
<text x="1928.56" y="688.20" font-size="27.93" fill="#000" textLength="14.91" lengthAdjust="spacingAndGlyphs">4</text>
<text x="1259.66" y="727.00" font-size="27.93" fill="#000" textLength="44.72" lengthAdjust="spacingAndGlyphs">159</text>
<text x="1367.62" y="727.00" font-size="27.93" fill="#000" textLength="44.72" lengthAdjust="spacingAndGlyphs">153</text>
<text x="1475.82" y="727.00" font-size="27.93" fill="#000" textLength="44.72" lengthAdjust="spacingAndGlyphs">138</text>
<text x="1594.49" y="727.00" font-size="27.93" fill="#000" textLength="42.73" lengthAdjust="spacingAndGlyphs">117</text>
<text x="1707.13" y="727.00" font-size="27.93" fill="#000" textLength="29.81" lengthAdjust="spacingAndGlyphs">98</text>
<text x="1814.63" y="727.00" font-size="27.93" fill="#000" textLength="29.81" lengthAdjust="spacingAndGlyphs">70</text>
<text x="1923.16" y="727.00" font-size="27.93" fill="#000" textLength="29.81" lengthAdjust="spacingAndGlyphs">13</text>
<text x="1264.59" y="765.10" font-size="27.93" fill="#000" textLength="29.81" lengthAdjust="spacingAndGlyphs">19</text>
<text x="1372.59" y="765.10" font-size="27.93" fill="#000" textLength="29.81" lengthAdjust="spacingAndGlyphs">19</text>
<text x="1480.76" y="765.10" font-size="27.93" fill="#000" textLength="29.81" lengthAdjust="spacingAndGlyphs">18</text>
<text x="1598.66" y="765.10" font-size="27.93" fill="#000" textLength="29.81" lengthAdjust="spacingAndGlyphs">16</text>
<text x="1706.56" y="765.10" font-size="27.93" fill="#000" textLength="29.81" lengthAdjust="spacingAndGlyphs">14</text>
<text x="1814.29" y="765.10" font-size="27.93" fill="#000" textLength="29.81" lengthAdjust="spacingAndGlyphs">10</text>
<text x="1928.56" y="765.10" font-size="27.93" fill="#000" textLength="14.91" lengthAdjust="spacingAndGlyphs">3</text>
<text x="1265.06" y="803.40" font-size="27.93" fill="#000" textLength="29.81" lengthAdjust="spacingAndGlyphs">81</text>
<text x="1372.89" y="803.40" font-size="27.93" fill="#000" textLength="29.81" lengthAdjust="spacingAndGlyphs">68</text>
<text x="1481.29" y="803.40" font-size="27.93" fill="#000" textLength="29.81" lengthAdjust="spacingAndGlyphs">51</text>
<text x="1599.29" y="803.40" font-size="27.93" fill="#000" textLength="29.81" lengthAdjust="spacingAndGlyphs">40</text>
<text x="1707.36" y="803.40" font-size="27.93" fill="#000" textLength="29.81" lengthAdjust="spacingAndGlyphs">32</text>
<text x="1814.66" y="803.40" font-size="27.93" fill="#000" textLength="29.81" lengthAdjust="spacingAndGlyphs">25</text>
<text x="1928.50" y="803.40" font-size="27.93" fill="#000" textLength="14.91" lengthAdjust="spacingAndGlyphs">7</text>
<text x="0.95" y="924.20" font-size="55.50" fill="#231f20" textLength="38.33" lengthAdjust="spacingAndGlyphs">C</text>
<text x="359.78" y="915.80" font-size="41.40" fill="#231f20" textLength="380.41" lengthAdjust="spacingAndGlyphs">Post-NAT ctDNA (T3)</text>
<line x1="212.60" y1="1002.00" x2="212.60" y2="1497.75" stroke="#000" stroke-width="2.5"/>
<line x1="211.35" y1="1496.50" x2="951.90" y2="1496.50" stroke="#000" stroke-width="2.5"/>
<line x1="208.20" y1="1473.60" x2="212.60" y2="1473.60" stroke="#000" stroke-width="2"/>
<text x="134.84" y="1481.60" font-size="36.47" fill="#4d4d4d" textLength="68.12" lengthAdjust="spacingAndGlyphs">0.00</text>
<line x1="208.20" y1="1361.30" x2="212.60" y2="1361.30" stroke="#000" stroke-width="2"/>
<text x="134.92" y="1369.30" font-size="36.47" fill="#4d4d4d" textLength="68.12" lengthAdjust="spacingAndGlyphs">0.25</text>
<line x1="208.20" y1="1248.80" x2="212.60" y2="1248.80" stroke="#000" stroke-width="2"/>
<text x="134.84" y="1256.80" font-size="36.47" fill="#4d4d4d" textLength="68.12" lengthAdjust="spacingAndGlyphs">0.50</text>
<line x1="208.20" y1="1136.50" x2="212.60" y2="1136.50" stroke="#000" stroke-width="2"/>
<text x="134.92" y="1144.50" font-size="36.47" fill="#4d4d4d" textLength="68.12" lengthAdjust="spacingAndGlyphs">0.75</text>
<line x1="208.20" y1="1024.20" x2="212.60" y2="1024.20" stroke="#000" stroke-width="2"/>
<text x="134.84" y="1032.20" font-size="36.47" fill="#4d4d4d" textLength="68.12" lengthAdjust="spacingAndGlyphs">1.00</text>
<line x1="246.20" y1="1496.50" x2="246.20" y2="1500.90" stroke="#000" stroke-width="2"/>
<text x="236.44" y="1531.70" font-size="36.47" fill="#4d4d4d" textLength="19.47" lengthAdjust="spacingAndGlyphs">0</text>
<line x1="358.20" y1="1496.50" x2="358.20" y2="1500.90" stroke="#000" stroke-width="2"/>
<text x="348.01" y="1531.70" font-size="36.47" fill="#4d4d4d" textLength="19.47" lengthAdjust="spacingAndGlyphs">1</text>
<line x1="470.20" y1="1496.50" x2="470.20" y2="1500.90" stroke="#000" stroke-width="2"/>
<text x="460.49" y="1531.70" font-size="36.47" fill="#4d4d4d" textLength="19.47" lengthAdjust="spacingAndGlyphs">2</text>
<line x1="582.20" y1="1496.50" x2="582.20" y2="1500.90" stroke="#000" stroke-width="2"/>
<text x="572.58" y="1531.70" font-size="36.47" fill="#4d4d4d" textLength="19.47" lengthAdjust="spacingAndGlyphs">3</text>
<line x1="694.20" y1="1496.50" x2="694.20" y2="1500.90" stroke="#000" stroke-width="2"/>
<text x="684.58" y="1531.70" font-size="36.47" fill="#4d4d4d" textLength="19.47" lengthAdjust="spacingAndGlyphs">4</text>
<line x1="806.20" y1="1496.50" x2="806.20" y2="1500.90" stroke="#000" stroke-width="2"/>
<text x="796.49" y="1531.70" font-size="36.47" fill="#4d4d4d" textLength="19.47" lengthAdjust="spacingAndGlyphs">5</text>
<line x1="918.20" y1="1496.50" x2="918.20" y2="1500.90" stroke="#000" stroke-width="2"/>
<text x="908.36" y="1531.70" font-size="36.47" fill="#4d4d4d" textLength="19.47" lengthAdjust="spacingAndGlyphs">6</text>
<text transform="translate(124.30,1288.64) rotate(-90)" font-size="37.14" fill="#000" textLength="97.04" lengthAdjust="spacingAndGlyphs">DRFS</text>
<text x="537.71" y="1565.70" font-size="37.50" fill="#000" textLength="88.23" lengthAdjust="spacingAndGlyphs">Years</text>
<path d="M246.2 1024.3H346.0V1026.5H395.0V1031.5H426.0V1037.3H439.0V1040.0H464.0V1042.1H495.0V1044.6H510.0V1049.8H536.0V1060.1H551.0V1064.7H567.0V1074.2H578.4V1077.2H596.9V1082.5H705.2V1085.7H728.2V1088.7H793.9V1093.3H807.7V1097.9H821.5V1101.8H951.7" fill="none" stroke="#6fa8dc" stroke-width="3.1" stroke-linejoin="miter" stroke-linecap="butt" stroke-dasharray="12.8 11.9" stroke-dashoffset="0"/>
<path d="M246.2 1024.3H305.3V1045.2H317.8V1066.8H346.8V1088.8H360.3V1109.5H406.5V1131.0H434.5V1152.8H467.0V1174.2H507.1V1195.4H551.1V1217.1H636.0V1240.3H951.7" fill="none" stroke="#0b5394" stroke-width="3.1" stroke-linejoin="miter" stroke-linecap="butt"/>
<path d="M246.2 1024.3H300.0V1030.7H336.4V1036.9H388.3V1049.8H441.2V1056.0H457.7V1070.1H497.1V1077.1H501.3V1084.0H538.6V1091.2H576.0V1099.1H608.4V1106.5H740.9V1115.7H857.2V1131.8H859.5V1149.3H949.4" fill="none" stroke="#f2634c" stroke-width="3.1" stroke-linejoin="miter" stroke-linecap="butt" stroke-dasharray="12.8 11.9" stroke-dashoffset="0"/>
<path d="M246.2 1024.3H300.1V1038.4H302.2V1054.3H314.2V1070.1H316.3V1085.0H324.6V1101.2H326.7V1117.2H328.1V1147.7H342.7V1162.8H347.8V1178.3H359.2V1194.3H364.8V1209.9H381.6V1225.4H407.6V1258.8H411.5V1274.9H416.6V1307.8H436.9V1324.9H483.4V1341.7H548.4V1358.1H568.6V1374.5H624.7V1391.2H672.6V1407.7H951.7" fill="none" stroke="#a8161f" stroke-width="3.1" stroke-linejoin="miter" stroke-linecap="butt"/>
<path d="M301.2 1019.3V1029.3M296.2 1024.3H306.2M354.0 1021.5V1031.5M349.0 1026.5H359.0M360.3 1021.5V1031.5M355.3 1026.5H365.3M386.2 1021.5V1031.5M381.2 1026.5H391.2M410.0 1026.5V1036.5M405.0 1031.5H415.0M432.7 1032.3V1042.3M427.7 1037.3H437.7M436.8 1032.3V1042.3M431.8 1037.3H441.8M439.9 1035.0V1045.0M434.9 1040.0H444.9M442.7 1035.0V1045.0M437.7 1040.0H447.7M479.5 1037.1V1047.1M474.5 1042.1H484.5M517.2 1044.8V1054.8M512.2 1049.8H522.2M522.8 1044.8V1054.8M517.8 1049.8H527.8M526.9 1044.8V1054.8M521.9 1049.8H531.9M530.4 1044.8V1054.8M525.4 1049.8H535.4M559.4 1059.7V1069.7M554.4 1064.7H564.4M560.0 1059.7V1069.7M555.0 1064.7H565.0M581.9 1072.2V1082.2M576.9 1077.2H586.9M614.1 1077.5V1087.5M609.1 1082.5H619.1M625.7 1077.5V1087.5M620.7 1082.5H630.7M637.3 1077.5V1087.5M632.3 1082.5H642.3M639.5 1077.5V1087.5M634.5 1082.5H644.5M641.7 1077.5V1087.5M636.7 1082.5H646.7M644.9 1077.5V1087.5M639.9 1082.5H649.9M647.8 1077.5V1087.5M642.8 1082.5H652.8M649.6 1077.5V1087.5M644.6 1082.5H654.6M653.4 1077.5V1087.5M648.4 1082.5H658.4M655.1 1077.5V1087.5M650.1 1082.5H660.1M679.8 1077.5V1087.5M674.8 1082.5H684.8M700.8 1077.5V1087.5M695.8 1082.5H705.8M701.5 1077.5V1087.5M696.5 1082.5H706.5M702.7 1077.5V1087.5M697.7 1082.5H707.7M718.2 1080.7V1090.7M713.2 1085.7H723.2M720.7 1080.7V1090.7M715.7 1085.7H725.7M722.6 1080.7V1090.7M717.6 1085.7H727.6M724.1 1080.7V1090.7M719.1 1085.7H729.1M731.7 1083.7V1093.7M726.7 1088.7H736.7M735.1 1083.7V1093.7M730.1 1088.7H740.1M737.5 1083.7V1093.7M732.5 1088.7H742.5M742.1 1083.7V1093.7M737.1 1088.7H747.1M744.1 1083.7V1093.7M739.1 1088.7H749.1M746.8 1083.7V1093.7M741.8 1088.7H751.8M751.1 1083.7V1093.7M746.1 1088.7H756.1M752.9 1083.7V1093.7M747.9 1088.7H757.9M757.4 1083.7V1093.7M752.4 1088.7H762.4M759.6 1083.7V1093.7M754.6 1088.7H764.6M762.9 1083.7V1093.7M757.9 1088.7H767.9M765.6 1083.7V1093.7M760.6 1088.7H770.6M776.6 1083.7V1093.7M771.6 1088.7H781.6M778.7 1083.7V1093.7M773.7 1088.7H783.7M781.0 1083.7V1093.7M776.0 1088.7H786.0M784.8 1083.7V1093.7M779.8 1088.7H789.8M786.4 1083.7V1093.7M781.4 1088.7H791.4M795.0 1088.3V1098.3M790.0 1093.3H800.0M807.7 1092.9V1102.9M802.7 1097.9H812.7M819.2 1092.9V1102.9M814.2 1097.9H824.2M825.5 1096.8V1106.8M820.5 1101.8H830.5M827.2 1096.8V1106.8M822.2 1101.8H832.2M831.0 1096.8V1106.8M826.0 1101.8H836.0M833.5 1096.8V1106.8M828.5 1101.8H838.5M835.9 1096.8V1106.8M830.9 1101.8H840.9M838.5 1096.8V1106.8M833.5 1101.8H843.5M840.8 1096.8V1106.8M835.8 1101.8H845.8M843.7 1096.8V1106.8M838.7 1101.8H848.7M845.3 1096.8V1106.8M840.3 1101.8H850.3M848.5 1096.8V1106.8M843.5 1101.8H853.5M851.6 1096.8V1106.8M846.6 1101.8H856.6M853.2 1096.8V1106.8M848.2 1101.8H858.2M857.0 1096.8V1106.8M852.0 1101.8H862.0M859.5 1096.8V1106.8M854.5 1101.8H864.5M861.4 1096.8V1106.8M856.4 1101.8H866.4M863.9 1096.8V1106.8M858.9 1101.8H868.9M866.6 1096.8V1106.8M861.6 1101.8H871.6M869.1 1096.8V1106.8M864.1 1101.8H874.1M872.7 1096.8V1106.8M867.7 1101.8H877.7M874.3 1096.8V1106.8M869.3 1101.8H879.3M876.4 1096.8V1106.8M871.4 1101.8H881.4M879.1 1096.8V1106.8M874.1 1101.8H884.1M882.6 1096.8V1106.8M877.6 1101.8H887.6M885.7 1096.8V1106.8M880.7 1101.8H890.7M887.5 1096.8V1106.8M882.5 1101.8H892.5M890.1 1096.8V1106.8M885.1 1101.8H895.1M892.8 1096.8V1106.8M887.8 1101.8H897.8M895.7 1096.8V1106.8M890.7 1101.8H900.7M897.5 1096.8V1106.8M892.5 1101.8H902.5M900.7 1096.8V1106.8M895.7 1101.8H905.7M903.2 1096.8V1106.8M898.2 1101.8H908.2M905.9 1096.8V1106.8M900.9 1101.8H910.9M907.8 1096.8V1106.8M902.8 1101.8H912.8M910.4 1096.8V1106.8M905.4 1101.8H915.4M913.3 1096.8V1106.8M908.3 1101.8H918.3M932.1 1096.8V1106.8M927.1 1101.8H937.1M948.2 1096.8V1106.8M943.2 1101.8H953.2" stroke="#6fa8dc" stroke-width="1.7" fill="none"/>
<path d="M575.0 1212.1V1222.1M570.0 1217.1H580.0M737.4 1235.3V1245.3M732.4 1240.3H742.4M812.3 1235.3V1245.3M807.3 1240.3H817.3M843.4 1235.3V1245.3M838.4 1240.3H848.4M849.2 1235.3V1245.3M844.2 1240.3H854.2M867.6 1235.3V1245.3M862.6 1240.3H872.6M875.7 1235.3V1245.3M870.7 1240.3H880.7M887.2 1235.3V1245.3M882.2 1240.3H892.2" stroke="#0b5394" stroke-width="1.7" fill="none"/>
<path d="M409.0 1044.8V1054.8M404.0 1049.8H414.0M412.1 1044.8V1054.8M407.1 1049.8H417.1M427.7 1044.8V1054.8M422.7 1049.8H432.7M477.5 1065.1V1075.1M472.5 1070.1H482.5M492.0 1065.1V1075.1M487.0 1070.1H497.0M513.7 1079.0V1089.0M508.7 1084.0H518.7M515.8 1079.0V1089.0M510.8 1084.0H520.8M525.1 1079.0V1089.0M520.1 1084.0H530.1M564.5 1086.2V1096.2M559.5 1091.2H569.5M611.8 1101.5V1111.5M606.8 1106.5H616.8M622.0 1101.5V1111.5M617.0 1106.5H627.0M631.0 1101.5V1111.5M626.0 1106.5H636.0M633.0 1101.5V1111.5M628.0 1106.5H638.0M650.0 1101.5V1111.5M645.0 1106.5H655.0M661.0 1101.5V1111.5M656.0 1106.5H666.0M712.0 1101.5V1111.5M707.0 1106.5H717.0M725.9 1101.5V1111.5M720.9 1106.5H730.9M738.6 1101.5V1111.5M733.6 1106.5H743.6M750.9 1110.7V1120.7M745.9 1115.7H755.9M753.7 1110.7V1120.7M748.7 1115.7H758.7M756.3 1110.7V1120.7M751.3 1115.7H761.3M767.4 1110.7V1120.7M762.4 1115.7H772.4M787.0 1110.7V1120.7M782.0 1115.7H792.0M788.1 1110.7V1120.7M783.1 1115.7H793.1M799.6 1110.7V1120.7M794.6 1115.7H804.6M827.0 1110.7V1120.7M822.0 1115.7H832.0M831.7 1110.7V1120.7M826.7 1115.7H836.7M835.0 1110.7V1120.7M830.0 1115.7H840.0M838.8 1110.7V1120.7M833.8 1115.7H843.8M841.6 1110.7V1120.7M836.6 1115.7H846.6M845.3 1110.7V1120.7M840.3 1115.7H850.3M849.5 1110.7V1120.7M844.5 1115.7H854.5M852.6 1110.7V1120.7M847.6 1115.7H857.6M856.1 1110.7V1120.7M851.1 1115.7H861.1M862.9 1144.3V1154.3M857.9 1149.3H867.9M864.6 1144.3V1154.3M859.6 1149.3H869.6M867.0 1144.3V1154.3M862.0 1149.3H872.0M870.2 1144.3V1154.3M865.2 1149.3H875.2M872.1 1144.3V1154.3M867.1 1149.3H877.1M884.9 1144.3V1154.3M879.9 1149.3H889.9M897.6 1144.3V1154.3M892.6 1149.3H902.6M920.6 1144.3V1154.3M915.6 1149.3H925.6" stroke="#f2634c" stroke-width="1.7" fill="none"/>
<path d="M310.5 1049.3V1059.3M305.5 1054.3H315.5M405.9 1220.4V1230.4M400.9 1225.4H410.9M812.2 1402.7V1412.7M807.2 1407.7H817.2M855.0 1402.7V1412.7M850.0 1407.7H860.0M869.0 1402.7V1412.7M864.0 1407.7H874.0" stroke="#a8161f" stroke-width="1.7" fill="none"/>
<line x1="582.30" y1="1002.00" x2="582.30" y2="1496.50" stroke="#000" stroke-width="2.5" stroke-dasharray="5.9 6.4" stroke-dashoffset="5.4"/>
<text transform="translate(230.39,1343.50) scale(1.065,1)" font-size="30.30" fill="#4d4d4d" textLength="181.64" lengthAdjust="spacing">3-year DRFS</text>
<text x="230.04" y="1381.20" font-size="30.50" fill="#6fa8dc" textLength="209.31" lengthAdjust="spacingAndGlyphs">RCB−II ctDNA-</text>
<text x="473.36" y="1381.20" font-size="30.50" fill="#6fa8dc" textLength="63.01" lengthAdjust="spacingAndGlyphs">88%</text>
<text x="230.03" y="1415.30" font-size="30.50" fill="#0b5394" textLength="218.32" lengthAdjust="spacingAndGlyphs">RCB−II ctDNA+</text>
<text x="473.47" y="1415.30" font-size="30.50" fill="#0b5394" textLength="61.68" lengthAdjust="spacingAndGlyphs">57%</text>
<text x="230.03" y="1448.80" font-size="30.50" fill="#f2634c" textLength="219.04" lengthAdjust="spacingAndGlyphs">RCB−III ctDNA-</text>
<text x="473.36" y="1448.80" font-size="30.50" fill="#f2634c" textLength="63.01" lengthAdjust="spacingAndGlyphs">83%</text>
<text x="230.03" y="1482.20" font-size="30.50" fill="#a8161f" textLength="226.83" lengthAdjust="spacingAndGlyphs">RCB−III ctDNA+</text>
<text x="473.15" y="1482.20" font-size="30.50" fill="#a8161f" textLength="62.00" lengthAdjust="spacingAndGlyphs">22%</text>
<text x="781.62" y="1482.60" font-size="31.71" fill="#000" textLength="144.69" lengthAdjust="spacingAndGlyphs">p &lt; 0.0001</text>
<text x="235.65" y="1591.90" font-size="32.27" fill="#000" textLength="130.78" lengthAdjust="spacingAndGlyphs">No.at risk</text>
<text x="-2.27" y="1618.80" font-size="30.50" fill="#6fa8dc" textLength="210.43" lengthAdjust="spacingAndGlyphs">RCB−II ctDNA-</text>
<text x="-2.28" y="1659.10" font-size="30.50" fill="#0b5394" textLength="219.24" lengthAdjust="spacingAndGlyphs">RCB−II ctDNA+</text>
<text x="-2.28" y="1700.30" font-size="30.50" fill="#f2634c" textLength="219.65" lengthAdjust="spacingAndGlyphs">RCB−III ctDNA-</text>
<text x="-2.28" y="1741.50" font-size="30.50" fill="#a8161f" textLength="227.95" lengthAdjust="spacingAndGlyphs">RCB−III ctDNA+</text>
<text x="235.28" y="1625.30" font-size="27.61" fill="#000" textLength="44.22" lengthAdjust="spacingAndGlyphs">183</text>
<text x="347.11" y="1625.30" font-size="27.61" fill="#000" textLength="44.22" lengthAdjust="spacingAndGlyphs">180</text>
<text x="458.17" y="1625.30" font-size="27.61" fill="#000" textLength="44.22" lengthAdjust="spacingAndGlyphs">166</text>
<text x="569.68" y="1625.30" font-size="27.61" fill="#000" textLength="44.22" lengthAdjust="spacingAndGlyphs">146</text>
<text x="681.07" y="1625.30" font-size="27.61" fill="#000" textLength="44.22" lengthAdjust="spacingAndGlyphs">127</text>
<text x="797.73" y="1625.30" font-size="27.61" fill="#000" textLength="29.48" lengthAdjust="spacingAndGlyphs">89</text>
<text x="909.26" y="1625.30" font-size="27.61" fill="#000" textLength="29.48" lengthAdjust="spacingAndGlyphs">16</text>
<text x="239.86" y="1668.20" font-size="27.61" fill="#000" textLength="29.48" lengthAdjust="spacingAndGlyphs">21</text>
<text x="352.06" y="1664.50" font-size="27.61" fill="#000" textLength="29.48" lengthAdjust="spacingAndGlyphs">18</text>
<text x="462.66" y="1664.50" font-size="27.61" fill="#000" textLength="29.48" lengthAdjust="spacingAndGlyphs">14</text>
<text x="574.39" y="1664.50" font-size="27.61" fill="#000" textLength="27.51" lengthAdjust="spacingAndGlyphs">11</text>
<text x="686.00" y="1664.50" font-size="27.61" fill="#000" textLength="29.48" lengthAdjust="spacingAndGlyphs">10</text>
<text x="802.85" y="1664.50" font-size="27.61" fill="#000" textLength="14.74" lengthAdjust="spacingAndGlyphs">8</text>
<text x="913.08" y="1664.50" font-size="27.61" fill="#000" textLength="14.74" lengthAdjust="spacingAndGlyphs">1</text>
<text x="236.13" y="1703.70" font-size="27.61" fill="#000" textLength="29.48" lengthAdjust="spacingAndGlyphs">70</text>
<text x="348.09" y="1703.70" font-size="27.61" fill="#000" textLength="29.48" lengthAdjust="spacingAndGlyphs">68</text>
<text x="460.73" y="1703.70" font-size="27.61" fill="#000" textLength="29.48" lengthAdjust="spacingAndGlyphs">60</text>
<text x="572.66" y="1703.70" font-size="27.61" fill="#000" textLength="29.48" lengthAdjust="spacingAndGlyphs">50</text>
<text x="685.56" y="1703.70" font-size="27.61" fill="#000" textLength="29.48" lengthAdjust="spacingAndGlyphs">42</text>
<text x="795.63" y="1703.70" font-size="27.61" fill="#000" textLength="29.48" lengthAdjust="spacingAndGlyphs">31</text>
<text x="912.61" y="1703.70" font-size="27.61" fill="#000" textLength="14.74" lengthAdjust="spacingAndGlyphs">9</text>
<text x="236.29" y="1742.70" font-size="27.61" fill="#000" textLength="29.48" lengthAdjust="spacingAndGlyphs">30</text>
<text x="348.09" y="1742.70" font-size="27.61" fill="#000" textLength="29.48" lengthAdjust="spacingAndGlyphs">19</text>
<text x="465.61" y="1742.70" font-size="27.61" fill="#000" textLength="14.74" lengthAdjust="spacingAndGlyphs">9</text>
<text x="577.85" y="1742.70" font-size="27.61" fill="#000" textLength="14.74" lengthAdjust="spacingAndGlyphs">6</text>
<text x="690.01" y="1742.70" font-size="27.61" fill="#000" textLength="14.74" lengthAdjust="spacingAndGlyphs">4</text>
<text x="801.91" y="1742.70" font-size="27.61" fill="#000" textLength="14.74" lengthAdjust="spacingAndGlyphs">4</text>
<text x="913.08" y="1742.70" font-size="27.61" fill="#000" textLength="14.74" lengthAdjust="spacingAndGlyphs">1</text>
<text x="1078.69" y="923.70" font-size="55.50" fill="#231f20" textLength="38.64" lengthAdjust="spacingAndGlyphs">D</text>
<text x="1318.70" y="906.60" font-size="41.40" fill="#231f20" textLength="609.43" lengthAdjust="spacingAndGlyphs">ctDNA dynamics in RCB-II/RCB-III</text>
<text x="1342.79" y="958.80" font-size="32.94" fill="#000" textLength="166.89" lengthAdjust="spacingAndGlyphs">T1 (week 3)</text>
<text x="1541.99" y="959.00" font-size="32.75" fill="#000" textLength="183.41" lengthAdjust="spacingAndGlyphs">T2 (week 12)</text>
<text x="1740.89" y="959.00" font-size="32.99" fill="#000" textLength="198.21" lengthAdjust="spacingAndGlyphs">T3 (post-NAT)</text>
<line x1="1224.40" y1="973.60" x2="1224.40" y2="1495.45" stroke="#000" stroke-width="2.5"/>
<line x1="1223.15" y1="1494.20" x2="1983.00" y2="1494.20" stroke="#000" stroke-width="2.5"/>
<line x1="1220.00" y1="1470.10" x2="1224.40" y2="1470.10" stroke="#000" stroke-width="2"/>
<text x="1147.14" y="1478.10" font-size="36.47" fill="#4d4d4d" textLength="68.12" lengthAdjust="spacingAndGlyphs">0.00</text>
<line x1="1220.00" y1="1351.70" x2="1224.40" y2="1351.70" stroke="#000" stroke-width="2"/>
<text x="1147.22" y="1359.70" font-size="36.47" fill="#4d4d4d" textLength="68.12" lengthAdjust="spacingAndGlyphs">0.25</text>
<line x1="1220.00" y1="1233.60" x2="1224.40" y2="1233.60" stroke="#000" stroke-width="2"/>
<text x="1147.14" y="1241.60" font-size="36.47" fill="#4d4d4d" textLength="68.12" lengthAdjust="spacingAndGlyphs">0.50</text>
<line x1="1220.00" y1="1115.20" x2="1224.40" y2="1115.20" stroke="#000" stroke-width="2"/>
<text x="1147.22" y="1123.20" font-size="36.47" fill="#4d4d4d" textLength="68.12" lengthAdjust="spacingAndGlyphs">0.75</text>
<line x1="1220.00" y1="997.00" x2="1224.40" y2="997.00" stroke="#000" stroke-width="2"/>
<text x="1147.14" y="1005.00" font-size="36.47" fill="#4d4d4d" textLength="68.12" lengthAdjust="spacingAndGlyphs">1.00</text>
<line x1="1258.50" y1="1494.20" x2="1258.50" y2="1498.60" stroke="#000" stroke-width="2"/>
<text x="1248.74" y="1534.00" font-size="36.47" fill="#4d4d4d" textLength="19.47" lengthAdjust="spacingAndGlyphs">0</text>
<line x1="1373.35" y1="1494.20" x2="1373.35" y2="1498.60" stroke="#000" stroke-width="2"/>
<text x="1363.16" y="1534.00" font-size="36.47" fill="#4d4d4d" textLength="19.47" lengthAdjust="spacingAndGlyphs">1</text>
<line x1="1488.20" y1="1494.20" x2="1488.20" y2="1498.60" stroke="#000" stroke-width="2"/>
<text x="1478.49" y="1534.00" font-size="36.47" fill="#4d4d4d" textLength="19.47" lengthAdjust="spacingAndGlyphs">2</text>
<line x1="1603.05" y1="1494.20" x2="1603.05" y2="1498.60" stroke="#000" stroke-width="2"/>
<text x="1593.42" y="1534.00" font-size="36.47" fill="#4d4d4d" textLength="19.47" lengthAdjust="spacingAndGlyphs">3</text>
<line x1="1717.90" y1="1494.20" x2="1717.90" y2="1498.60" stroke="#000" stroke-width="2"/>
<text x="1708.28" y="1534.00" font-size="36.47" fill="#4d4d4d" textLength="19.47" lengthAdjust="spacingAndGlyphs">4</text>
<line x1="1832.75" y1="1494.20" x2="1832.75" y2="1498.60" stroke="#000" stroke-width="2"/>
<text x="1823.04" y="1534.00" font-size="36.47" fill="#4d4d4d" textLength="19.47" lengthAdjust="spacingAndGlyphs">5</text>
<line x1="1947.60" y1="1494.20" x2="1947.60" y2="1498.60" stroke="#000" stroke-width="2"/>
<text x="1937.76" y="1534.00" font-size="36.47" fill="#4d4d4d" textLength="19.47" lengthAdjust="spacingAndGlyphs">6</text>
<text transform="translate(1138.80,1265.89) rotate(-90)" font-size="37.70" fill="#000" textLength="98.50" lengthAdjust="spacingAndGlyphs">DRFS</text>
<text x="1566.11" y="1574.90" font-size="37.50" fill="#000" textLength="88.13" lengthAdjust="spacingAndGlyphs">Years</text>
<path d="M1258.1 997.1H1558.0V1008.3H1763.9V1022.9H1983.0" fill="none" stroke="#1f78b4" stroke-width="2.6" stroke-linejoin="miter" stroke-linecap="butt"/>
<path d="M1258.1 997.1H1411.0V1005.6H1477.0V1014.1H1559.0V1023.5H1598.0V1041.5H1626.7V1050.6H1730.4V1060.7H1884.3V1078.9H1983.0" fill="none" stroke="#33a02c" stroke-width="2.6" stroke-linejoin="miter" stroke-linecap="butt"/>
<path d="M1258.1 997.1H1310.7V1005.6H1443.0V1014.7H1515.3V1024.1H1535.6V1033.1H1633.0V1043.3H1752.6V1057.4H1849.9V1073.2H1983.0" fill="none" stroke="#7b52a3" stroke-width="2.6" stroke-linejoin="miter" stroke-linecap="butt"/>
<path d="M1258.1 997.1H1361.3V1006.2H1403.9V1015.8H1411.3V1024.8H1412.0V1034.8H1438.6V1043.9H1450.3V1054.2H1459.5V1063.8H1468.5V1073.3H1474.2V1083.4H1512.6V1093.4H1521.7V1103.2H1533.5V1113.2H1553.7V1123.3H1555.4V1133.5H1560.7V1143.7H1577.8V1154.0H1581.0V1164.4H1584.6V1174.2H1816.4V1190.9H1887.0V1218.8H1983.0" fill="none" stroke="#fdb431" stroke-width="2.6" stroke-linejoin="miter" stroke-linecap="butt"/>
<path d="M1258.1 997.1H1314.0V1006.6H1316.0V1019.4H1319.3V1031.6H1328.9V1043.5H1330.6V1055.0H1339.0V1067.4H1341.6V1079.0H1342.3V1090.8H1361.9V1102.5H1362.5V1114.3H1374.3V1126.6H1375.7V1138.1H1380.0V1150.1H1423.0V1162.2H1423.7V1185.7H1428.0V1197.8H1433.3V1209.7H1433.7V1221.5H1453.5V1233.2H1484.4V1245.3H1502.1V1257.1H1526.4V1268.8H1569.0V1280.6H1570.2V1292.3H1589.8V1304.4H1646.6V1317.3H1657.9V1330.2H1696.4V1342.6H1983.0" fill="none" stroke="#dc1f26" stroke-width="2.6" stroke-linejoin="miter" stroke-linecap="butt"/>
<path d="M1375.7 993.4V1000.9M1372.0 997.1H1379.5M1461.0 993.4V1000.9M1457.2 997.1H1464.8M1533.5 993.4V1000.9M1529.8 997.1H1537.2M1542.0 993.4V1000.9M1538.2 997.1H1545.8M1655.7 1004.5V1012.0M1652.0 1008.3H1659.5M1724.9 1004.5V1012.0M1721.1 1008.3H1728.6M1725.7 1004.5V1012.0M1721.9 1008.3H1729.4M1726.6 1004.5V1012.0M1722.8 1008.3H1730.3M1740.6 1004.5V1012.0M1736.8 1008.3H1744.3M1759.8 1004.5V1012.0M1756.0 1008.3H1763.5M1768.9 1019.1V1026.7M1765.2 1022.9H1772.7M1781.3 1019.1V1026.7M1777.5 1022.9H1785.0M1800.5 1019.1V1026.7M1796.8 1022.9H1804.2M1811.9 1019.1V1026.7M1808.2 1022.9H1815.7M1814.1 1019.1V1026.7M1810.3 1022.9H1817.8M1847.0 1019.1V1026.7M1843.2 1022.9H1850.8M1856.0 1019.1V1026.7M1852.2 1022.9H1859.8M1860.5 1019.1V1026.7M1856.8 1022.9H1864.2M1864.0 1019.1V1026.7M1860.2 1022.9H1867.8M1867.3 1019.1V1026.7M1863.5 1022.9H1871.0M1882.5 1019.1V1026.7M1878.8 1022.9H1886.3M1883.1 1019.1V1026.7M1879.4 1022.9H1886.9M1884.0 1019.1V1026.7M1880.2 1022.9H1887.7M1884.9 1019.1V1026.7M1881.2 1022.9H1888.7M1891.1 1019.1V1026.7M1887.3 1022.9H1894.8M1894.5 1019.1V1026.7M1890.8 1022.9H1898.2M1902.4 1019.1V1026.7M1898.7 1022.9H1906.2M1903.6 1019.1V1026.7M1899.8 1022.9H1907.3M1909.2 1019.1V1026.7M1905.5 1022.9H1913.0M1910.4 1019.1V1026.7M1906.7 1022.9H1914.2M1913.0 1019.1V1026.7M1909.3 1022.9H1916.8M1942.0 1019.1V1026.7M1938.2 1022.9H1945.8M1961.3 1019.1V1026.7M1957.5 1022.9H1965.0M1963.6 1019.1V1026.7M1959.8 1022.9H1967.3" stroke="#1f78b4" stroke-width="1.7" fill="none"/>
<path d="M1401.7 993.4V1000.9M1398.0 997.1H1405.5M1428.0 1001.9V1009.4M1424.2 1005.6H1431.8M1448.6 1001.9V1009.4M1444.8 1005.6H1452.3M1511.0 1010.4V1017.9M1507.2 1014.1H1514.8M1531.8 1010.4V1017.9M1528.0 1014.1H1535.5M1545.2 1010.4V1017.9M1541.5 1014.1H1549.0M1635.3 1046.8V1054.3M1631.5 1050.6H1639.0M1669.8 1046.8V1054.3M1666.1 1050.6H1673.6M1672.6 1046.8V1054.3M1668.8 1050.6H1676.3M1675.3 1046.8V1054.3M1671.5 1050.6H1679.0M1678.7 1046.8V1054.3M1675.0 1050.6H1682.5M1743.0 1057.0V1064.5M1739.3 1060.7H1746.8M1746.0 1057.0V1064.5M1742.2 1060.7H1749.7M1747.7 1057.0V1064.5M1743.9 1060.7H1751.4M1765.4 1057.0V1064.5M1761.7 1060.7H1769.2M1768.2 1057.0V1064.5M1764.4 1060.7H1771.9M1770.0 1057.0V1064.5M1766.2 1060.7H1773.7M1775.6 1057.0V1064.5M1771.8 1060.7H1779.3M1782.4 1057.0V1064.5M1778.7 1060.7H1786.2M1791.5 1057.0V1064.5M1787.8 1060.7H1795.2M1815.3 1057.0V1064.5M1811.5 1060.7H1819.0M1823.2 1057.0V1064.5M1819.5 1060.7H1827.0M1854.9 1057.0V1064.5M1851.2 1060.7H1858.7M1869.6 1057.0V1064.5M1865.8 1060.7H1873.3M1888.3 1075.2V1082.7M1884.6 1078.9H1892.1M1890.5 1075.2V1082.7M1886.7 1078.9H1894.2M1892.1 1075.2V1082.7M1888.3 1078.9H1895.8M1893.8 1075.2V1082.7M1890.1 1078.9H1897.6M1903.6 1075.2V1082.7M1899.8 1078.9H1907.3M1909.2 1075.2V1082.7M1905.5 1078.9H1913.0M1917.1 1075.2V1082.7M1913.3 1078.9H1920.8M1919.4 1075.2V1082.7M1915.7 1078.9H1923.2M1930.7 1075.2V1082.7M1927.0 1078.9H1934.5M1933.0 1075.2V1082.7M1929.2 1078.9H1936.8M1938.7 1075.2V1082.7M1935.0 1078.9H1942.5" stroke="#33a02c" stroke-width="1.7" fill="none"/>
<path d="M1370.4 1001.9V1009.4M1366.7 1005.6H1374.2M1444.0 1011.0V1018.5M1440.2 1014.7H1447.8M1511.1 1011.0V1018.5M1507.3 1014.7H1514.8M1551.6 1029.3V1036.8M1547.8 1033.1H1555.3M1579.3 1029.3V1036.8M1575.5 1033.1H1583.0M1602.5 1029.3V1036.8M1598.8 1033.1H1606.2M1638.7 1039.5V1047.0M1635.0 1043.3H1642.5M1644.3 1039.5V1047.0M1640.5 1043.3H1648.0M1654.5 1039.5V1047.0M1650.8 1043.3H1658.2M1660.6 1039.5V1047.0M1656.8 1043.3H1664.3M1661.4 1039.5V1047.0M1657.6 1043.3H1665.1M1662.2 1039.5V1047.0M1658.4 1043.3H1665.9M1724.7 1039.5V1047.0M1721.0 1043.3H1728.5M1748.5 1039.5V1047.0M1744.8 1043.3H1752.2M1787.0 1053.7V1061.2M1783.2 1057.4H1790.8M1806.2 1053.7V1061.2M1802.5 1057.4H1810.0M1834.5 1053.7V1061.2M1830.8 1057.4H1838.2M1853.8 1069.5V1077.0M1850.0 1073.2H1857.5M1860.5 1069.5V1077.0M1856.8 1073.2H1864.2M1870.7 1069.5V1077.0M1867.0 1073.2H1874.5M1873.0 1069.5V1077.0M1869.2 1073.2H1876.8M1878.0 1069.5V1077.0M1874.3 1073.2H1881.8M1879.9 1069.5V1077.0M1876.1 1073.2H1883.6M1881.6 1069.5V1077.0M1877.9 1073.2H1885.4M1895.1 1069.5V1077.0M1891.3 1073.2H1898.8M1895.5 1069.5V1077.0M1891.8 1073.2H1899.3M1896.5 1069.5V1077.0M1892.7 1073.2H1900.2M1910.1 1069.5V1077.0M1906.3 1073.2H1913.8M1911.5 1069.5V1077.0M1907.7 1073.2H1915.2M1913.4 1069.5V1077.0M1909.6 1073.2H1917.1M1925.1 1069.5V1077.0M1921.3 1073.2H1928.8M1933.0 1069.5V1077.0M1929.2 1073.2H1936.8M1948.8 1069.5V1077.0M1945.0 1073.2H1952.5M1977.1 1069.5V1077.0M1973.3 1073.2H1980.8" stroke="#7b52a3" stroke-width="1.7" fill="none"/>
<path d="M1313.9 993.4V1000.9M1310.2 997.1H1317.7M1369.4 1002.5V1010.0M1365.7 1006.2H1373.2M1425.8 1031.0V1038.5M1422.0 1034.8H1429.5M1498.3 1079.7V1087.2M1494.5 1083.4H1502.0M1536.7 1109.5V1117.0M1533.0 1113.2H1540.5M1585.7 1170.5V1178.0M1582.0 1174.2H1589.5M1644.3 1170.5V1178.0M1640.5 1174.2H1648.0M1674.9 1170.5V1178.0M1671.2 1174.2H1678.7M1755.3 1170.5V1178.0M1751.5 1174.2H1759.0M1763.2 1170.5V1178.0M1759.5 1174.2H1767.0M1771.1 1170.5V1178.0M1767.3 1174.2H1774.8M1776.8 1170.5V1178.0M1773.0 1174.2H1780.5M1779.0 1170.5V1178.0M1775.2 1174.2H1782.8M1794.9 1170.5V1178.0M1791.2 1174.2H1798.7M1802.8 1170.5V1178.0M1799.0 1174.2H1806.5M1808.5 1170.5V1178.0M1804.8 1174.2H1812.2M1825.5 1187.2V1194.7M1821.8 1190.9H1829.2M1853.8 1187.2V1194.7M1850.0 1190.9H1857.5M1866.2 1187.2V1194.7M1862.5 1190.9H1870.0M1869.6 1187.2V1194.7M1865.8 1190.9H1873.3M1884.3 1187.2V1194.7M1880.5 1190.9H1888.0M1886.6 1187.2V1194.7M1882.8 1190.9H1890.3M1894.5 1215.0V1222.5M1890.8 1218.8H1898.2M1899.0 1215.0V1222.5M1895.2 1218.8H1902.8M1902.4 1215.0V1222.5M1898.7 1218.8H1906.2M1934.1 1215.0V1222.5M1930.3 1218.8H1937.8" stroke="#fdb431" stroke-width="1.7" fill="none"/>
<path d="M1323.5 1027.8V1035.3M1319.8 1031.6H1327.2M1595.7 1300.7V1308.2M1592.0 1304.4H1599.5M1762.1 1338.8V1346.3M1758.3 1342.6H1765.8M1871.9 1338.8V1346.3M1868.2 1342.6H1875.7M1877.5 1338.8V1346.3M1873.8 1342.6H1881.2M1882.0 1338.8V1346.3M1878.2 1342.6H1885.8M1896.8 1338.8V1346.3M1893.0 1342.6H1900.5M1916.0 1338.8V1346.3M1912.2 1342.6H1919.8" stroke="#dc1f26" stroke-width="1.7" fill="none"/>
<line x1="1603.00" y1="973.40" x2="1603.00" y2="1494.20" stroke="#000" stroke-width="2.5" stroke-dasharray="5.9 6.4" stroke-dashoffset="3.8"/>
<text transform="translate(1302.89,1307.20) scale(1.065,1)" font-size="30.30" fill="#4d4d4d" textLength="183.15" lengthAdjust="spacing">3-year DRFS</text>
<text x="1230.11" y="1352.00" font-size="29.50" fill="#1f78b4" textLength="266.52" lengthAdjust="spacingAndGlyphs">Persistent negative</text>
<text x="1513.04" y="1352.00" font-size="29.50" fill="#1f78b4" textLength="61.71" lengthAdjust="spacingAndGlyphs">98%</text>
<text x="1231.16" y="1382.10" font-size="29.50" fill="#33a02c" textLength="185.72" lengthAdjust="spacingAndGlyphs">Cleared at T1</text>
<text x="1516.96" y="1382.10" font-size="29.50" fill="#33a02c" textLength="60.78" lengthAdjust="spacingAndGlyphs">91%</text>
<text x="1231.14" y="1412.10" font-size="29.50" fill="#7b52a3" textLength="188.65" lengthAdjust="spacingAndGlyphs">Cleared at T2</text>
<text x="1516.96" y="1412.10" font-size="29.50" fill="#7b52a3" textLength="60.78" lengthAdjust="spacingAndGlyphs">92%</text>
<text x="1231.14" y="1442.10" font-size="29.50" fill="#fdb431" textLength="188.41" lengthAdjust="spacingAndGlyphs">Cleared at T3</text>
<text x="1514.03" y="1442.10" font-size="29.50" fill="#fdb431" textLength="63.05" lengthAdjust="spacingAndGlyphs">63%</text>
<text x="1230.11" y="1472.10" font-size="29.50" fill="#dc1f26" textLength="264.25" lengthAdjust="spacingAndGlyphs">No clearance at T3</text>
<text x="1519.54" y="1472.10" font-size="29.50" fill="#dc1f26" textLength="62.12" lengthAdjust="spacingAndGlyphs">35%</text>
<text x="1821.04" y="1478.70" font-size="31.35" fill="#000" textLength="143.05" lengthAdjust="spacingAndGlyphs">p &lt; 0.0001</text>
<text x="1253.72" y="1581.40" font-size="32.64" fill="#000" textLength="132.31" lengthAdjust="spacingAndGlyphs">No.at risk</text>
<text x="1006.38" y="1613.40" font-size="25.50" fill="#1f78b4" textLength="228.66" lengthAdjust="spacingAndGlyphs">Persistent negative</text>
<text x="1007.27" y="1646.20" font-size="25.50" fill="#33a02c" textLength="161.02" lengthAdjust="spacingAndGlyphs">Cleared at T1</text>
<text x="1007.25" y="1677.90" font-size="25.50" fill="#7b52a3" textLength="162.61" lengthAdjust="spacingAndGlyphs">Cleared at T2</text>
<text x="1007.26" y="1711.30" font-size="25.50" fill="#fdb431" textLength="162.41" lengthAdjust="spacingAndGlyphs">Cleared at T3</text>
<text x="1006.38" y="1743.00" font-size="25.50" fill="#dc1f26" textLength="226.69" lengthAdjust="spacingAndGlyphs">No clearance at T3</text>
<text x="1258.12" y="1607.00" font-size="27.61" fill="#000" textLength="29.48" lengthAdjust="spacingAndGlyphs">45</text>
<text x="1368.32" y="1607.00" font-size="27.61" fill="#000" textLength="29.48" lengthAdjust="spacingAndGlyphs">45</text>
<text x="1478.55" y="1607.00" font-size="27.61" fill="#000" textLength="29.48" lengthAdjust="spacingAndGlyphs">42</text>
<text x="1601.39" y="1607.00" font-size="27.61" fill="#000" textLength="29.48" lengthAdjust="spacingAndGlyphs">39</text>
<text x="1720.55" y="1607.00" font-size="27.61" fill="#000" textLength="29.48" lengthAdjust="spacingAndGlyphs">38</text>
<text x="1830.79" y="1607.00" font-size="27.61" fill="#000" textLength="29.48" lengthAdjust="spacingAndGlyphs">26</text>
<text x="1944.46" y="1607.00" font-size="27.61" fill="#000" textLength="14.74" lengthAdjust="spacingAndGlyphs">4</text>
<text x="1257.92" y="1640.20" font-size="27.61" fill="#000" textLength="29.48" lengthAdjust="spacingAndGlyphs">58</text>
<text x="1368.12" y="1640.20" font-size="27.61" fill="#000" textLength="29.48" lengthAdjust="spacingAndGlyphs">58</text>
<text x="1478.32" y="1640.20" font-size="27.61" fill="#000" textLength="29.48" lengthAdjust="spacingAndGlyphs">52</text>
<text x="1601.65" y="1640.20" font-size="27.61" fill="#000" textLength="29.48" lengthAdjust="spacingAndGlyphs">47</text>
<text x="1720.69" y="1640.20" font-size="27.61" fill="#000" textLength="29.48" lengthAdjust="spacingAndGlyphs">40</text>
<text x="1830.89" y="1640.20" font-size="27.61" fill="#000" textLength="29.48" lengthAdjust="spacingAndGlyphs">27</text>
<text x="1944.29" y="1640.20" font-size="27.61" fill="#000" textLength="14.74" lengthAdjust="spacingAndGlyphs">6</text>
<text x="1257.72" y="1673.00" font-size="27.61" fill="#000" textLength="29.48" lengthAdjust="spacingAndGlyphs">54</text>
<text x="1368.22" y="1673.00" font-size="27.61" fill="#000" textLength="29.48" lengthAdjust="spacingAndGlyphs">52</text>
<text x="1478.15" y="1673.00" font-size="27.61" fill="#000" textLength="29.48" lengthAdjust="spacingAndGlyphs">50</text>
<text x="1601.35" y="1673.00" font-size="27.61" fill="#000" textLength="29.48" lengthAdjust="spacingAndGlyphs">44</text>
<text x="1720.36" y="1673.00" font-size="27.61" fill="#000" textLength="29.48" lengthAdjust="spacingAndGlyphs">34</text>
<text x="1830.79" y="1673.00" font-size="27.61" fill="#000" textLength="29.48" lengthAdjust="spacingAndGlyphs">28</text>
<text x="1944.29" y="1673.00" font-size="27.61" fill="#000" textLength="14.74" lengthAdjust="spacingAndGlyphs">6</text>
<text x="1257.99" y="1706.80" font-size="27.61" fill="#000" textLength="29.48" lengthAdjust="spacingAndGlyphs">51</text>
<text x="1368.39" y="1706.80" font-size="27.61" fill="#000" textLength="29.48" lengthAdjust="spacingAndGlyphs">49</text>
<text x="1478.39" y="1706.80" font-size="27.61" fill="#000" textLength="29.48" lengthAdjust="spacingAndGlyphs">40</text>
<text x="1601.19" y="1706.80" font-size="27.61" fill="#000" textLength="29.48" lengthAdjust="spacingAndGlyphs">28</text>
<text x="1720.39" y="1706.80" font-size="27.61" fill="#000" textLength="29.48" lengthAdjust="spacingAndGlyphs">26</text>
<text x="1830.46" y="1706.80" font-size="27.61" fill="#000" textLength="29.48" lengthAdjust="spacingAndGlyphs">16</text>
<text x="1944.39" y="1706.80" font-size="27.61" fill="#000" textLength="14.74" lengthAdjust="spacingAndGlyphs">2</text>
<text x="1258.22" y="1739.80" font-size="27.61" fill="#000" textLength="29.48" lengthAdjust="spacingAndGlyphs">41</text>
<text x="1368.09" y="1739.80" font-size="27.61" fill="#000" textLength="29.48" lengthAdjust="spacingAndGlyphs">30</text>
<text x="1477.79" y="1739.80" font-size="27.61" fill="#000" textLength="29.48" lengthAdjust="spacingAndGlyphs">19</text>
<text x="1600.86" y="1739.80" font-size="27.61" fill="#000" textLength="29.48" lengthAdjust="spacingAndGlyphs">13</text>
<text x="1719.99" y="1739.80" font-size="27.61" fill="#000" textLength="29.48" lengthAdjust="spacingAndGlyphs">10</text>
<text x="1835.26" y="1739.80" font-size="27.61" fill="#000" textLength="14.74" lengthAdjust="spacingAndGlyphs">9</text>
<text x="1944.39" y="1739.80" font-size="27.61" fill="#000" textLength="14.74" lengthAdjust="spacingAndGlyphs">2</text>
<text x="475.87" y="1887.90" font-size="55.50" fill="#231f20" textLength="35.04" lengthAdjust="spacingAndGlyphs">E</text>
<text x="643.59" y="1895.80" font-size="41.40" fill="#000" textLength="859.84" lengthAdjust="spacingAndGlyphs">Performance of Cox models for predicting DRFS</text>
<rect x="678.50" y="2059.82" width="129.2" height="264.98" fill="#f4977a"/>
<rect x="893.40" y="2040.64" width="129.2" height="284.16" fill="#f4977a"/>
<rect x="1108.60" y="2038.15" width="129.2" height="286.65" fill="#f4977a"/>
<rect x="1323.70" y="2024.66" width="129.2" height="300.14" fill="#f4977a"/>
<line x1="743.10" y1="2025.80" x2="743.10" y2="2093.50" stroke="#000" stroke-width="2.4"/>
<line x1="721.50" y1="2025.80" x2="764.70" y2="2025.80" stroke="#000" stroke-width="2.4"/>
<line x1="721.50" y1="2093.50" x2="764.70" y2="2093.50" stroke="#000" stroke-width="2.4"/>
<text x="712.25" y="2016.30" font-size="32.63" fill="#000" textLength="60.95" lengthAdjust="spacingAndGlyphs">0.75</text>
<line x1="958.00" y1="2015.20" x2="958.00" y2="2066.20" stroke="#000" stroke-width="2.4"/>
<line x1="936.40" y1="2015.20" x2="979.60" y2="2015.20" stroke="#000" stroke-width="2.4"/>
<line x1="936.40" y1="2066.20" x2="979.60" y2="2066.20" stroke="#000" stroke-width="2.4"/>
<text x="922.42" y="1999.60" font-size="33.31" fill="#000" textLength="62.22" lengthAdjust="spacingAndGlyphs">0.80</text>
<line x1="1173.20" y1="2014.10" x2="1173.20" y2="2061.60" stroke="#000" stroke-width="2.4"/>
<line x1="1151.60" y1="2014.10" x2="1194.80" y2="2014.10" stroke="#000" stroke-width="2.4"/>
<line x1="1151.60" y1="2061.60" x2="1194.80" y2="2061.60" stroke="#000" stroke-width="2.4"/>
<text x="1142.26" y="1995.80" font-size="32.42" fill="#000" textLength="60.57" lengthAdjust="spacingAndGlyphs">0.81</text>
<line x1="1388.30" y1="2003.80" x2="1388.30" y2="2045.20" stroke="#000" stroke-width="2.4"/>
<line x1="1366.70" y1="2003.80" x2="1409.90" y2="2003.80" stroke="#000" stroke-width="2.4"/>
<line x1="1366.70" y1="2045.20" x2="1409.90" y2="2045.20" stroke="#000" stroke-width="2.4"/>
<text x="1357.05" y="1982.90" font-size="32.52" fill="#000" textLength="60.75" lengthAdjust="spacingAndGlyphs">0.84</text>
<rect x="615.3" y="1933.8" width="901.2" height="408.3" fill="none" stroke="#000" stroke-width="2.4"/>
<line x1="608.30" y1="1969.60" x2="615.30" y2="1969.60" stroke="#000" stroke-width="2"/>
<text x="538.42" y="1981.70" font-size="34.07" fill="#4d4d4d" textLength="63.65" lengthAdjust="spacingAndGlyphs">1.00</text>
<line x1="608.30" y1="2058.40" x2="615.30" y2="2058.40" stroke="#000" stroke-width="2"/>
<text x="538.51" y="2070.50" font-size="34.07" fill="#4d4d4d" textLength="63.65" lengthAdjust="spacingAndGlyphs">0.75</text>
<line x1="608.30" y1="2147.20" x2="615.30" y2="2147.20" stroke="#000" stroke-width="2"/>
<text x="538.42" y="2159.30" font-size="34.07" fill="#4d4d4d" textLength="63.65" lengthAdjust="spacingAndGlyphs">0.50</text>
<line x1="608.30" y1="2236.00" x2="615.30" y2="2236.00" stroke="#000" stroke-width="2"/>
<text x="538.51" y="2248.10" font-size="34.07" fill="#4d4d4d" textLength="63.65" lengthAdjust="spacingAndGlyphs">0.25</text>
<line x1="608.30" y1="2324.80" x2="615.30" y2="2324.80" stroke="#000" stroke-width="2"/>
<text x="538.42" y="2336.90" font-size="34.07" fill="#4d4d4d" textLength="63.65" lengthAdjust="spacingAndGlyphs">0.00</text>
<line x1="743.10" y1="2342.00" x2="743.10" y2="2349.00" stroke="#000" stroke-width="2"/>
<text x="732.42" y="2378.50" font-size="33.34" fill="#4d4d4d" textLength="21.34" lengthAdjust="spacingAndGlyphs">A</text>
<line x1="958.00" y1="2342.00" x2="958.00" y2="2349.00" stroke="#000" stroke-width="2"/>
<text x="946.84" y="2378.50" font-size="33.34" fill="#4d4d4d" textLength="21.34" lengthAdjust="spacingAndGlyphs">B</text>
<line x1="1173.20" y1="2342.00" x2="1173.20" y2="2349.00" stroke="#000" stroke-width="2"/>
<text x="1161.44" y="2378.50" font-size="33.34" fill="#4d4d4d" textLength="23.11" lengthAdjust="spacingAndGlyphs">C</text>
<line x1="1388.30" y1="2342.00" x2="1388.30" y2="2349.00" stroke="#000" stroke-width="2"/>
<text x="1376.18" y="2378.50" font-size="33.34" fill="#4d4d4d" textLength="23.11" lengthAdjust="spacingAndGlyphs">D</text>
<text transform="translate(525.40,2270.37) rotate(-90)" font-size="34.88" fill="#000" textLength="265.09" lengthAdjust="spacingAndGlyphs">C−index (95% CI)</text>
<text x="505.66" y="2442.10" font-size="28.33" fill="#000" textLength="97.44" lengthAdjust="spacingAndGlyphs">DRFS ~</text>
<text x="671.54" y="2442.10" font-size="28.52" fill="#000" textLength="112.53" lengthAdjust="spacingAndGlyphs">RCB-II/III</text>
<text x="883.56" y="2429.50" font-size="28.32" fill="#000" textLength="135.16" lengthAdjust="spacingAndGlyphs">RCB-II/III +</text>
<text x="893.14" y="2460.50" font-size="28.49" fill="#000" textLength="116.51" lengthAdjust="spacingAndGlyphs">ctDNA T0</text>
<text x="1093.88" y="2429.00" font-size="28.06" fill="#000" textLength="133.92" lengthAdjust="spacingAndGlyphs">RCB-II/III +</text>
<text x="1102.03" y="2459.70" font-size="28.75" fill="#000" textLength="117.57" lengthAdjust="spacingAndGlyphs">ctDNA T3</text>
<text x="1327.47" y="2422.60" font-size="28.17" fill="#000" textLength="134.44" lengthAdjust="spacingAndGlyphs">RCB-II/III +</text>
<text x="1320.45" y="2454.80" font-size="28.31" fill="#000" textLength="156.54" lengthAdjust="spacingAndGlyphs">ctDNA T0-T3</text>
</svg>
</body></html>
